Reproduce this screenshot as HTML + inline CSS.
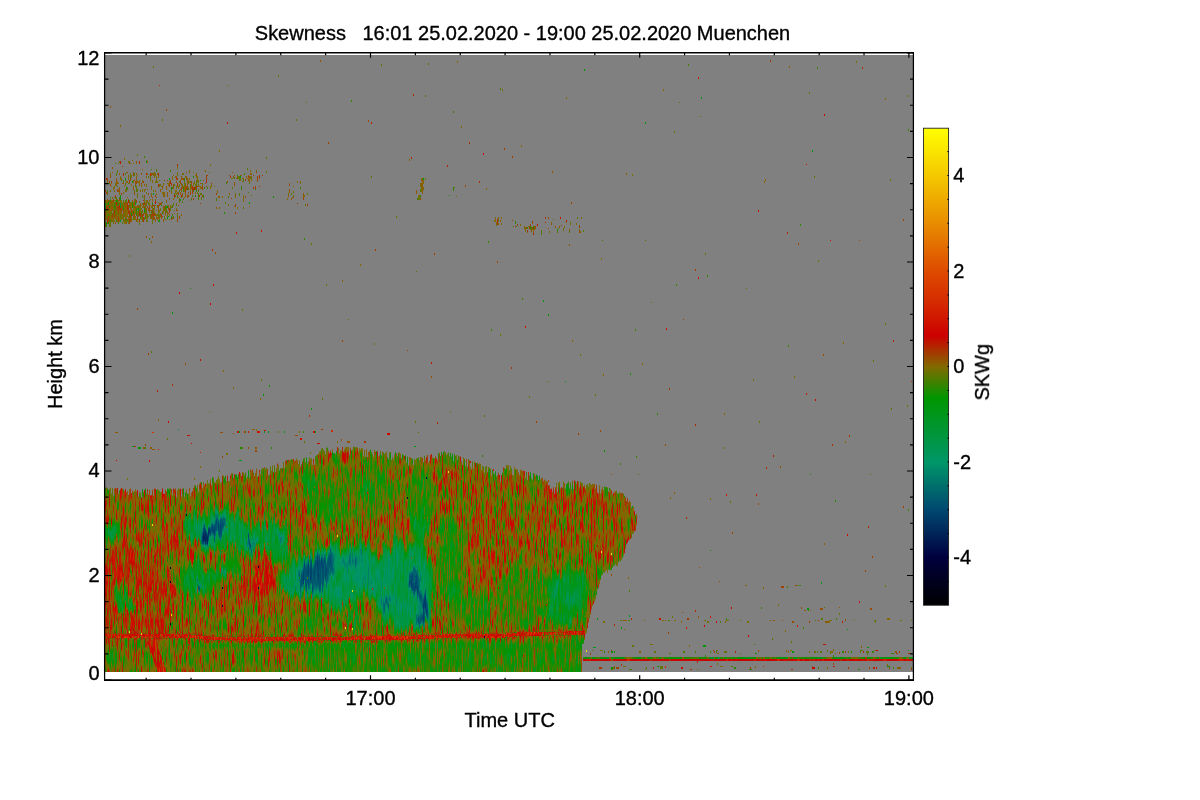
<!DOCTYPE html>
<html lang="en"><head><meta charset="utf-8"><title>Skewness 16:01 25.02.2020 - 19:00 25.02.2020 Muenchen</title>
<style>html,body{margin:0;padding:0;background:#fff;}body{width:1200px;height:800px;overflow:hidden;}svg{display:block;}text{font-family:"Liberation Sans",Arial,Helvetica,sans-serif;font-size:20px;fill:#000;stroke:#000;stroke-width:0.35px;}</style></head><body>
<svg width="1200" height="800" viewBox="0 0 1200 800">
<defs>
<linearGradient id="cb" x1="0" y1="1" x2="0" y2="0">
<stop offset="0.0000" stop-color="#000000"/>
<stop offset="0.1000" stop-color="#00003e"/>
<stop offset="0.2000" stop-color="#004870"/>
<stop offset="0.3000" stop-color="#009668"/>
<stop offset="0.3700" stop-color="#009632"/>
<stop offset="0.4350" stop-color="#009600"/>
<stop offset="0.5000" stop-color="#826a00"/>
<stop offset="0.5650" stop-color="#cc0000"/>
<stop offset="0.6300" stop-color="#d42800"/>
<stop offset="0.7000" stop-color="#de4b00"/>
<stop offset="0.8000" stop-color="#e88c00"/>
<stop offset="0.9000" stop-color="#f4c800"/>
<stop offset="1.0000" stop-color="#ffff00"/>
</linearGradient>
<filter id="bw" filterUnits="userSpaceOnUse" x="60" y="400" width="640" height="310" color-interpolation-filters="sRGB">
<feGaussianBlur in="SourceGraphic" stdDeviation="2.2 2.6" result="b"/>
<feTurbulence type="fractalNoise" baseFrequency="0.045 0.022" numOctaves="3" seed="4" result="w"/>
<feDisplacementMap in="b" in2="w" scale="26" xChannelSelector="R" yChannelSelector="G" result="d1"/>
<feTurbulence type="fractalNoise" baseFrequency="0.33 0.012" numOctaves="2" seed="9" result="w2"/>
<feColorMatrix in="w2" type="matrix" values="0 0 0 0 0.5  0 1 0 0 0  0 0 0 0 0.5  0 0 0 0 1" result="w2b"/>
<feDisplacementMap in="d1" in2="w2b" scale="34" xChannelSelector="R" yChannelSelector="G"/>
</filter>
<filter id="b1" filterUnits="userSpaceOnUse" x="60" y="400" width="640" height="310" color-interpolation-filters="sRGB">
<feGaussianBlur in="SourceGraphic" stdDeviation="0.4 0.9"/>
</filter>
<filter id="cf" filterUnits="userSpaceOnUse" x="90" y="420" width="570" height="270" color-interpolation-filters="sRGB">
<feTurbulence type="fractalNoise" baseFrequency="0.85 0.06" numOctaves="2" seed="11" result="t1"/>
<feColorMatrix in="t1" type="matrix" values="1 0 0 0 0  1 0 0 0 0  1 0 0 0 0  0 0 0 0 1" result="n1"/>
<feTurbulence type="fractalNoise" baseFrequency="0.11 0.045" numOctaves="2" seed="5" result="t2"/>
<feColorMatrix in="t2" type="matrix" values="0 1 0 0 0  0 1 0 0 0  0 1 0 0 0  0 0 0 0 1" result="n2"/>
<feComponentTransfer in="n1" result="n1c"><feFuncR type="table" tableValues="0.3300 0.3300 0.3300 0.3300 0.3300 0.3300 0.3300 0.3300 0.3300 0.3300 0.3300 0.3300 0.3300 0.3450 0.3807 0.4125 0.4401 0.4633 0.4816 0.4943 0.5000 0.5057 0.5184 0.5367 0.5599 0.5875 0.6193 0.6550 0.6700 0.6700 0.6700 0.6700 0.6700 0.6700 0.6700 0.6700 0.6700 0.6700 0.6700 0.6700 0.6700"/><feFuncG type="table" tableValues="0.3300 0.3300 0.3300 0.3300 0.3300 0.3300 0.3300 0.3300 0.3300 0.3300 0.3300 0.3300 0.3300 0.3450 0.3807 0.4125 0.4401 0.4633 0.4816 0.4943 0.5000 0.5057 0.5184 0.5367 0.5599 0.5875 0.6193 0.6550 0.6700 0.6700 0.6700 0.6700 0.6700 0.6700 0.6700 0.6700 0.6700 0.6700 0.6700 0.6700 0.6700"/><feFuncB type="table" tableValues="0.3300 0.3300 0.3300 0.3300 0.3300 0.3300 0.3300 0.3300 0.3300 0.3300 0.3300 0.3300 0.3300 0.3450 0.3807 0.4125 0.4401 0.4633 0.4816 0.4943 0.5000 0.5057 0.5184 0.5367 0.5599 0.5875 0.6193 0.6550 0.6700 0.6700 0.6700 0.6700 0.6700 0.6700 0.6700 0.6700 0.6700 0.6700 0.6700 0.6700 0.6700"/></feComponentTransfer>
<feComposite in="n1c" in2="n2" operator="arithmetic" k1="0" k2="0.8" k3="0.2" k4="0" result="n"/>
<feComposite in="SourceGraphic" in2="n" operator="arithmetic" k1="1" k2="0.5" k3="-0.04" k4="0.02" result="v"/>
<feComponentTransfer in="v">
<feFuncR type="table" tableValues="0.000 0.000 0.000 0.000 0.000 0.000 0.000 0.000 0.000 0.000 0.000 0.000 0.000 0.000 0.000 0.000 0.000 0.000 0.000 0.000 0.000 0.000 0.000 0.000 0.000 0.000 0.000 0.000 0.000 0.000 0.000 0.000 0.000 0.000 0.000 0.020 0.118 0.216 0.314 0.412 0.510 0.566 0.621 0.677 0.733 0.789 0.805 0.811 0.817 0.823 0.829 0.836 0.843 0.850 0.857 0.864 0.871 0.875 0.880 0.885 0.890 0.895 0.900 0.905 0.910 0.916 0.922 0.927 0.933 0.939 0.945 0.951 0.957 0.962 0.968 0.973 0.978 0.984 0.989 0.995 1.000"/>
<feFuncG type="table" tableValues="0.000 0.000 0.000 0.000 0.000 0.000 0.000 0.000 0.000 0.035 0.071 0.106 0.141 0.176 0.212 0.247 0.282 0.321 0.359 0.397 0.435 0.474 0.512 0.550 0.588 0.588 0.588 0.588 0.588 0.588 0.588 0.588 0.588 0.588 0.588 0.582 0.548 0.515 0.482 0.449 0.416 0.336 0.256 0.176 0.096 0.016 0.024 0.054 0.084 0.115 0.145 0.172 0.196 0.221 0.245 0.270 0.294 0.326 0.358 0.390 0.422 0.453 0.485 0.517 0.549 0.578 0.608 0.637 0.667 0.696 0.725 0.755 0.784 0.811 0.838 0.865 0.892 0.919 0.946 0.973 1.000"/>
<feFuncB type="table" tableValues="0.000 0.030 0.061 0.091 0.122 0.152 0.182 0.213 0.243 0.268 0.292 0.317 0.341 0.366 0.390 0.415 0.439 0.435 0.431 0.427 0.424 0.420 0.416 0.412 0.408 0.370 0.332 0.294 0.257 0.219 0.181 0.143 0.106 0.068 0.030 0.000 0.000 0.000 0.000 0.000 0.000 0.000 0.000 0.000 0.000 0.000 0.000 0.000 0.000 0.000 0.000 0.000 0.000 0.000 0.000 0.000 0.000 0.000 0.000 0.000 0.000 0.000 0.000 0.000 0.000 0.000 0.000 0.000 0.000 0.000 0.000 0.000 0.000 0.000 0.000 0.000 0.000 0.000 0.000 0.000 0.000"/>
</feComponentTransfer>
</filter>
<filter id="cf2" filterUnits="userSpaceOnUse" x="90" y="620" width="570" height="70" color-interpolation-filters="sRGB">
<feGaussianBlur in="SourceGraphic" stdDeviation="0.3 0.7" result="sb"/>
<feTurbulence type="fractalNoise" baseFrequency="0.7 0.25" numOctaves="2" seed="23" result="t1"/>
<feColorMatrix in="t1" type="matrix" values="1 0 0 0 0  1 0 0 0 0  1 0 0 0 0  0 0 0 0 1" result="n1"/>
<feComposite in="sb" in2="n1" operator="arithmetic" k1="0" k2="1" k3="0.36" k4="-0.18" result="v"/>
<feComponentTransfer in="v" result="col">
<feFuncR type="table" tableValues="0.000 0.000 0.000 0.000 0.000 0.000 0.000 0.000 0.000 0.000 0.000 0.000 0.000 0.000 0.000 0.000 0.000 0.000 0.000 0.000 0.000 0.000 0.000 0.000 0.000 0.000 0.000 0.000 0.000 0.000 0.000 0.000 0.000 0.000 0.000 0.020 0.118 0.216 0.314 0.412 0.510 0.566 0.621 0.677 0.733 0.789 0.805 0.811 0.817 0.823 0.829 0.836 0.843 0.850 0.857 0.864 0.871 0.875 0.880 0.885 0.890 0.895 0.900 0.905 0.910 0.916 0.922 0.927 0.933 0.939 0.945 0.951 0.957 0.962 0.968 0.973 0.978 0.984 0.989 0.995 1.000"/>
<feFuncG type="table" tableValues="0.000 0.000 0.000 0.000 0.000 0.000 0.000 0.000 0.000 0.035 0.071 0.106 0.141 0.176 0.212 0.247 0.282 0.321 0.359 0.397 0.435 0.474 0.512 0.550 0.588 0.588 0.588 0.588 0.588 0.588 0.588 0.588 0.588 0.588 0.588 0.582 0.548 0.515 0.482 0.449 0.416 0.336 0.256 0.176 0.096 0.016 0.024 0.054 0.084 0.115 0.145 0.172 0.196 0.221 0.245 0.270 0.294 0.326 0.358 0.390 0.422 0.453 0.485 0.517 0.549 0.578 0.608 0.637 0.667 0.696 0.725 0.755 0.784 0.811 0.838 0.865 0.892 0.919 0.946 0.973 1.000"/>
<feFuncB type="table" tableValues="0.000 0.030 0.061 0.091 0.122 0.152 0.182 0.213 0.243 0.268 0.292 0.317 0.341 0.366 0.390 0.415 0.439 0.435 0.431 0.427 0.424 0.420 0.416 0.412 0.408 0.370 0.332 0.294 0.257 0.219 0.181 0.143 0.106 0.068 0.030 0.000 0.000 0.000 0.000 0.000 0.000 0.000 0.000 0.000 0.000 0.000 0.000 0.000 0.000 0.000 0.000 0.000 0.000 0.000 0.000 0.000 0.000 0.000 0.000 0.000 0.000 0.000 0.000 0.000 0.000 0.000 0.000 0.000 0.000 0.000 0.000 0.000 0.000 0.000 0.000 0.000 0.000 0.000 0.000 0.000 0.000"/>
</feComponentTransfer>
<feComposite in="col" in2="SourceAlpha" operator="in"/>
</filter>
<clipPath id="cc"><path d="M105.0 672.0 L105.0 487.7 H106.0 L106.0 487.6 H107.0 L107.0 488.6 H108.0 L108.0 489.7 H109.0 L109.0 489.1 H110.0 L110.0 487.8 H111.0 L111.0 493.7 H112.0 L112.0 488.1 H113.0 L113.0 495.8 H114.0 L114.0 489.0 H115.0 L115.0 487.9 H116.0 L116.0 488.5 H117.0 L117.0 488.0 H118.0 L118.0 493.8 H119.0 L119.0 490.8 H120.0 L120.0 489.1 H121.0 L121.0 488.1 H122.0 L122.0 488.4 H123.0 L123.0 489.6 H124.0 L124.0 491.0 H125.0 L125.0 488.9 H126.0 L126.0 492.4 H127.0 L127.0 491.0 H128.0 L128.0 495.1 H129.0 L129.0 489.0 H130.0 L130.0 488.5 H131.0 L131.0 493.3 H132.0 L132.0 490.4 H133.0 L133.0 492.2 H134.0 L134.0 491.1 H135.0 L135.0 489.2 H136.0 L136.0 491.4 H137.0 L137.0 490.1 H138.0 L138.0 496.4 H139.0 L139.0 492.2 H140.0 L140.0 492.6 H141.0 L141.0 497.4 H142.0 L142.0 489.1 H143.0 L143.0 492.2 H144.0 L144.0 490.1 H145.0 L145.0 488.6 H146.0 L146.0 493.5 H147.0 L147.0 488.9 H148.0 L148.0 495.1 H149.0 L149.0 490.0 H150.0 L150.0 495.4 H151.0 L151.0 495.0 H152.0 L152.0 489.8 H153.0 L153.0 495.4 H154.0 L154.0 488.6 H155.0 L155.0 488.9 H156.0 L156.0 490.3 H157.0 L157.0 489.0 H158.0 L158.0 489.8 H159.0 L159.0 491.1 H160.0 L160.0 492.5 H161.0 L161.0 491.6 H162.0 L162.0 488.5 H163.0 L163.0 493.7 H164.0 L164.0 494.0 H165.0 L165.0 489.7 H166.0 L166.0 491.8 H167.0 L167.0 488.5 H168.0 L168.0 488.7 H169.0 L169.0 488.5 H170.0 L170.0 488.6 H171.0 L171.0 489.5 H172.0 L172.0 495.2 H173.0 L173.0 488.6 H174.0 L174.0 489.4 H175.0 L175.0 488.6 H176.0 L176.0 497.4 H177.0 L177.0 490.3 H178.0 L178.0 488.6 H179.0 L179.0 489.0 H180.0 L180.0 488.7 H181.0 L181.0 496.6 H182.0 L182.0 488.6 H183.0 L183.0 488.5 H184.0 L184.0 497.1 H185.0 L185.0 492.6 H186.0 L186.0 489.5 H187.0 L187.0 493.6 H188.0 L188.0 493.7 H189.0 L189.0 488.3 H190.0 L190.0 496.2 H191.0 L191.0 492.5 H192.0 L192.0 491.0 H193.0 L193.0 488.0 H194.0 L194.0 485.3 H195.0 L195.0 485.4 H196.0 L196.0 488.3 H197.0 L197.0 485.3 H198.0 L198.0 492.0 H199.0 L199.0 483.7 H200.0 L200.0 482.5 H201.0 L201.0 481.9 H202.0 L202.0 488.3 H203.0 L203.0 482.4 H204.0 L204.0 485.6 H205.0 L205.0 483.2 H206.0 L206.0 484.3 H207.0 L207.0 480.3 H208.0 L208.0 483.6 H209.0 L209.0 483.6 H210.0 L210.0 479.0 H211.0 L211.0 485.6 H212.0 L212.0 477.6 H213.0 L213.0 477.3 H214.0 L214.0 482.6 H215.0 L215.0 482.6 H216.0 L216.0 480.1 H217.0 L217.0 478.7 H218.0 L218.0 476.1 H219.0 L219.0 479.3 H220.0 L220.0 483.3 H221.0 L221.0 482.0 H222.0 L222.0 475.5 H223.0 L223.0 475.5 H224.0 L224.0 477.5 H225.0 L225.0 475.8 H226.0 L226.0 481.6 H227.0 L227.0 475.7 H228.0 L228.0 481.0 H229.0 L229.0 481.1 H230.0 L230.0 475.6 H231.0 L231.0 473.2 H232.0 L232.0 473.2 H233.0 L233.0 478.2 H234.0 L234.0 474.2 H235.0 L235.0 474.8 H236.0 L236.0 474.2 H237.0 L237.0 477.1 H238.0 L238.0 474.1 H239.0 L239.0 471.9 H240.0 L240.0 473.2 H241.0 L241.0 475.9 H242.0 L242.0 472.2 H243.0 L243.0 472.5 H244.0 L244.0 474.4 H245.0 L245.0 472.4 H246.0 L246.0 477.9 H247.0 L247.0 476.6 H248.0 L248.0 470.2 H249.0 L249.0 477.5 H250.0 L250.0 469.5 H251.0 L251.0 470.8 H252.0 L252.0 469.5 H253.0 L253.0 472.7 H254.0 L254.0 475.9 H255.0 L255.0 473.0 H256.0 L256.0 468.6 H257.0 L257.0 476.7 H258.0 L258.0 476.3 H259.0 L259.0 469.9 H260.0 L260.0 473.9 H261.0 L261.0 469.1 H262.0 L262.0 468.4 H263.0 L263.0 468.1 H264.0 L264.0 467.3 H265.0 L265.0 468.6 H266.0 L266.0 467.8 H267.0 L267.0 468.9 H268.0 L268.0 475.4 H269.0 L269.0 474.9 H270.0 L270.0 466.6 H271.0 L271.0 471.0 H272.0 L272.0 465.5 H273.0 L273.0 472.4 H274.0 L274.0 465.1 H275.0 L275.0 471.8 H276.0 L276.0 468.0 H277.0 L277.0 463.6 H278.0 L278.0 464.6 H279.0 L279.0 470.6 H280.0 L280.0 468.0 H281.0 L281.0 468.5 H282.0 L282.0 468.2 H283.0 L283.0 462.2 H284.0 L284.0 468.6 H285.0 L285.0 460.7 H286.0 L286.0 460.6 H287.0 L287.0 460.0 H288.0 L288.0 459.8 H289.0 L289.0 460.0 H290.0 L290.0 459.9 H291.0 L291.0 459.4 H292.0 L292.0 459.0 H293.0 L293.0 458.9 H294.0 L294.0 461.2 H295.0 L295.0 460.4 H296.0 L296.0 458.6 H297.0 L297.0 459.9 H298.0 L298.0 464.4 H299.0 L299.0 460.2 H300.0 L300.0 466.8 H301.0 L301.0 464.0 H302.0 L302.0 461.2 H303.0 L303.0 458.6 H304.0 L304.0 457.8 H305.0 L305.0 462.2 H306.0 L306.0 457.6 H307.0 L307.0 463.5 H308.0 L308.0 460.9 H309.0 L309.0 457.5 H310.0 L310.0 458.6 H311.0 L311.0 458.4 H312.0 L312.0 465.0 H313.0 L313.0 459.0 H314.0 L314.0 464.8 H315.0 L315.0 456.3 H316.0 L316.0 455.3 H317.0 L317.0 455.1 H318.0 L318.0 454.0 H319.0 L319.0 451.4 H320.0 L320.0 450.9 H321.0 L321.0 448.6 H322.0 L322.0 447.9 H323.0 L323.0 449.7 H324.0 L324.0 451.0 H325.0 L325.0 454.2 H326.0 L326.0 448.1 H327.0 L327.0 447.5 H328.0 L328.0 450.7 H329.0 L329.0 453.3 H330.0 L330.0 450.5 H331.0 L331.0 452.9 H332.0 L332.0 449.3 H333.0 L333.0 453.2 H334.0 L334.0 453.0 H335.0 L335.0 454.1 H336.0 L336.0 451.1 H337.0 L337.0 447.0 H338.0 L338.0 447.9 H339.0 L339.0 453.0 H340.0 L340.0 450.2 H341.0 L341.0 450.7 H342.0 L342.0 446.9 H343.0 L343.0 451.6 H344.0 L344.0 449.1 H345.0 L345.0 446.8 H346.0 L346.0 447.2 H347.0 L347.0 447.2 H348.0 L348.0 446.9 H349.0 L349.0 455.2 H350.0 L350.0 447.7 H351.0 L351.0 450.5 H352.0 L352.0 449.6 H353.0 L353.0 446.5 H354.0 L354.0 447.1 H355.0 L355.0 447.5 H356.0 L356.0 447.0 H357.0 L357.0 447.7 H358.0 L358.0 451.4 H359.0 L359.0 448.2 H360.0 L360.0 449.4 H361.0 L361.0 448.0 H362.0 L362.0 448.3 H363.0 L363.0 456.1 H364.0 L364.0 450.1 H365.0 L365.0 457.0 H366.0 L366.0 449.3 H367.0 L367.0 456.9 H368.0 L368.0 451.9 H369.0 L369.0 451.5 H370.0 L370.0 449.6 H371.0 L371.0 451.7 H372.0 L372.0 453.9 H373.0 L373.0 457.0 H374.0 L374.0 450.1 H375.0 L375.0 452.1 H376.0 L376.0 451.0 H377.0 L377.0 451.4 H378.0 L378.0 456.8 H379.0 L379.0 455.6 H380.0 L380.0 451.1 H381.0 L381.0 455.4 H382.0 L382.0 451.7 H383.0 L383.0 452.4 H384.0 L384.0 454.1 H385.0 L385.0 452.8 H386.0 L386.0 451.5 H387.0 L387.0 457.6 H388.0 L388.0 459.4 H389.0 L389.0 452.2 H390.0 L390.0 452.0 H391.0 L391.0 460.0 H392.0 L392.0 457.6 H393.0 L393.0 459.4 H394.0 L394.0 454.5 H395.0 L395.0 452.2 H396.0 L396.0 453.8 H397.0 L397.0 455.8 H398.0 L398.0 452.4 H399.0 L399.0 452.6 H400.0 L400.0 453.8 H401.0 L401.0 458.1 H402.0 L402.0 454.3 H403.0 L403.0 455.0 H404.0 L404.0 456.0 H405.0 L405.0 455.4 H406.0 L406.0 463.0 H407.0 L407.0 456.5 H408.0 L408.0 465.6 H409.0 L409.0 457.2 H410.0 L410.0 457.6 H411.0 L411.0 458.1 H412.0 L412.0 459.0 H413.0 L413.0 465.2 H414.0 L414.0 459.3 H415.0 L415.0 460.0 H416.0 L416.0 458.4 H417.0 L417.0 457.9 H418.0 L418.0 457.2 H419.0 L419.0 460.2 H420.0 L420.0 457.0 H421.0 L421.0 456.9 H422.0 L422.0 457.7 H423.0 L423.0 462.3 H424.0 L424.0 455.8 H425.0 L425.0 459.8 H426.0 L426.0 457.1 H427.0 L427.0 455.1 H428.0 L428.0 462.5 H429.0 L429.0 461.0 H430.0 L430.0 454.8 H431.0 L431.0 454.3 H432.0 L432.0 457.8 H433.0 L433.0 458.1 H434.0 L434.0 458.5 H435.0 L435.0 455.7 H436.0 L436.0 458.3 H437.0 L437.0 460.3 H438.0 L438.0 453.2 H439.0 L439.0 452.8 H440.0 L440.0 456.2 H441.0 L441.0 451.9 H442.0 L442.0 454.4 H443.0 L443.0 451.8 H444.0 L444.0 451.2 H445.0 L445.0 452.6 H446.0 L446.0 454.8 H447.0 L447.0 453.4 H448.0 L448.0 452.4 H449.0 L449.0 456.5 H450.0 L450.0 452.7 H451.0 L451.0 456.8 H452.0 L452.0 453.8 H453.0 L453.0 461.3 H454.0 L454.0 454.1 H455.0 L455.0 455.8 H456.0 L456.0 455.0 H457.0 L457.0 459.7 H458.0 L458.0 455.7 H459.0 L459.0 456.5 H460.0 L460.0 456.5 H461.0 L461.0 461.4 H462.0 L462.0 464.9 H463.0 L463.0 457.4 H464.0 L464.0 458.8 H465.0 L465.0 465.9 H466.0 L466.0 459.4 H467.0 L467.0 467.2 H468.0 L468.0 459.1 H469.0 L469.0 460.6 H470.0 L470.0 466.7 H471.0 L471.0 469.2 H472.0 L472.0 461.4 H473.0 L473.0 468.8 H474.0 L474.0 461.4 H475.0 L475.0 462.9 H476.0 L476.0 463.0 H477.0 L477.0 462.6 H478.0 L478.0 463.9 H479.0 L479.0 463.5 H480.0 L480.0 464.0 H481.0 L481.0 470.0 H482.0 L482.0 466.0 H483.0 L483.0 466.7 H484.0 L484.0 472.8 H485.0 L485.0 466.7 H486.0 L486.0 466.1 H487.0 L487.0 472.2 H488.0 L488.0 467.1 H489.0 L489.0 467.7 H490.0 L490.0 468.7 H491.0 L491.0 475.9 H492.0 L492.0 469.9 H493.0 L493.0 473.0 H494.0 L494.0 474.8 H495.0 L495.0 471.6 H496.0 L496.0 476.5 H497.0 L497.0 475.5 H498.0 L498.0 472.8 H499.0 L499.0 475.1 H500.0 L500.0 482.0 H501.0 L501.0 474.9 H502.0 L502.0 472.7 H503.0 L503.0 467.4 H504.0 L504.0 468.1 H505.0 L505.0 469.0 H506.0 L506.0 465.0 H507.0 L507.0 465.6 H508.0 L508.0 465.0 H509.0 L509.0 470.2 H510.0 L510.0 465.7 H511.0 L511.0 468.5 H512.0 L512.0 475.1 H513.0 L513.0 475.6 H514.0 L514.0 467.2 H515.0 L515.0 469.5 H516.0 L516.0 469.5 H517.0 L517.0 469.6 H518.0 L518.0 472.4 H519.0 L519.0 475.3 H520.0 L520.0 469.5 H521.0 L521.0 470.4 H522.0 L522.0 471.2 H523.0 L523.0 470.8 H524.0 L524.0 471.1 H525.0 L525.0 477.8 H526.0 L526.0 472.0 H527.0 L527.0 480.3 H528.0 L528.0 472.0 H529.0 L529.0 475.4 H530.0 L530.0 472.2 H531.0 L531.0 478.1 H532.0 L532.0 480.0 H533.0 L533.0 473.4 H534.0 L534.0 473.3 H535.0 L535.0 476.0 H536.0 L536.0 474.5 H537.0 L537.0 475.8 H538.0 L538.0 480.1 H539.0 L539.0 475.7 H540.0 L540.0 479.6 H541.0 L541.0 478.1 H542.0 L542.0 478.1 H543.0 L543.0 481.5 H544.0 L544.0 479.6 H545.0 L545.0 480.8 H546.0 L546.0 481.0 H547.0 L547.0 481.8 H548.0 L548.0 485.6 H549.0 L549.0 485.1 H550.0 L550.0 489.2 H551.0 L551.0 488.5 H552.0 L552.0 491.7 H553.0 L553.0 487.3 H554.0 L554.0 494.0 H555.0 L555.0 487.6 H556.0 L556.0 485.4 H557.0 L557.0 492.2 H558.0 L558.0 482.6 H559.0 L559.0 481.8 H560.0 L560.0 488.6 H561.0 L561.0 487.2 H562.0 L562.0 488.2 H563.0 L563.0 481.4 H564.0 L564.0 483.6 H565.0 L565.0 488.4 H566.0 L566.0 484.2 H567.0 L567.0 483.0 H568.0 L568.0 481.5 H569.0 L569.0 488.5 H570.0 L570.0 482.7 H571.0 L571.0 489.1 H572.0 L572.0 480.8 H573.0 L573.0 489.1 H574.0 L574.0 480.6 H575.0 L575.0 481.6 H576.0 L576.0 483.8 H577.0 L577.0 481.0 H578.0 L578.0 481.4 H579.0 L579.0 487.5 H580.0 L580.0 481.7 H581.0 L581.0 482.8 H582.0 L582.0 482.9 H583.0 L583.0 486.4 H584.0 L584.0 484.7 H585.0 L585.0 488.5 H586.0 L586.0 485.0 H587.0 L587.0 484.1 H588.0 L588.0 486.5 H589.0 L589.0 483.1 H590.0 L590.0 483.7 H591.0 L591.0 485.1 H592.0 L592.0 483.8 H593.0 L593.0 483.9 H594.0 L594.0 484.1 H595.0 L595.0 488.8 H596.0 L596.0 484.5 H597.0 L597.0 492.7 H598.0 L598.0 493.7 H599.0 L599.0 485.2 H600.0 L600.0 493.4 H601.0 L601.0 489.2 H602.0 L602.0 486.7 H603.0 L603.0 490.6 H604.0 L604.0 486.6 H605.0 L605.0 486.9 H606.0 L606.0 487.3 H607.0 L607.0 487.2 H608.0 L608.0 491.7 H609.0 L609.0 488.0 H610.0 L610.0 488.9 H611.0 L611.0 490.4 H612.0 L612.0 494.5 H613.0 L613.0 492.9 H614.0 L614.0 491.6 H615.0 L615.0 491.3 H616.0 L616.0 490.8 H617.0 L617.0 493.2 H618.0 L618.0 493.8 H619.0 L619.0 492.0 H620.0 L620.0 493.3 H621.0 L621.0 492.9 H622.0 L622.0 493.3 H623.0 L623.0 493.7 H624.0 L624.0 495.8 H625.0 L625.0 497.3 H626.0 L626.0 501.3 H627.0 L627.0 497.9 H628.0 L628.0 502.2 H629.0 L629.0 500.4 H630.0 L630.0 502.1 H631.0 L631.0 507.5 H632.0 L632.0 508.4 H633.0 L633.0 506.8 H634.0 L634.0 511.2 H635.0 L635.0 514.8 H636.0 L636.0 513.9 H637.0 L637.0 517.5 H638.0 L638.0 517.9 H637.0 L637.0 525.6 H636.0 L636.0 530.6 H635.0 L635.0 531.3 H634.0 L634.0 533.5 H633.0 L633.0 533.9 H632.0 L632.0 537.9 H631.0 L631.0 538.8 H630.0 L630.0 540.1 H629.0 L629.0 540.4 H628.0 L628.0 542.6 H627.0 L627.0 544.6 H626.0 L626.0 549.1 H625.0 L625.0 553.2 H624.0 L624.0 555.8 H623.0 L623.0 558.0 H622.0 L622.0 559.7 H621.0 L621.0 561.6 H620.0 L620.0 560.9 H619.0 L619.0 562.3 H618.0 L618.0 565.7 H617.0 L617.0 565.8 H616.0 L616.0 564.0 H615.0 L615.0 565.5 H614.0 L614.0 565.9 H613.0 L613.0 568.1 H612.0 L612.0 569.9 H611.0 L611.0 570.6 H610.0 L610.0 570.0 H609.0 L609.0 569.3 H608.0 L608.0 573.0 H607.0 L607.0 569.8 H606.0 L606.0 571.2 H605.0 L605.0 572.6 H604.0 L604.0 572.2 H603.0 L603.0 574.6 H602.0 L602.0 575.7 H601.0 L601.0 579.9 H600.0 L600.0 584.3 H599.0 L599.0 587.5 H598.0 L598.0 589.3 H597.0 L597.0 595.0 H596.0 L596.0 599.2 H595.0 L595.0 601.8 H594.0 L594.0 604.1 H593.0 L593.0 606.0 H592.0 L592.0 609.3 H591.0 L591.0 614.8 H590.0 L590.0 618.5 H589.0 L589.0 622.8 H588.0 L588.0 628.3 H587.0 L587.0 632.8 H586.0 L586.0 634.0 H585.0 L585.0 639.9 H584.0 L584.0 643.7 H583.0 L583.0 643.9 H582.0 L582.0 672.0 H581.0 L581.0 672.0 H580.0 L580.0 672.0 H579.0 L579.0 672.0 H578.0 L578.0 672.0 H577.0 L577.0 672.0 H576.0 L576.0 672.0 H575.0 L575.0 672.0 H574.0 L574.0 672.0 H573.0 L573.0 672.0 H572.0 L572.0 672.0 H571.0 L571.0 672.0 H570.0 L570.0 672.0 H569.0 L569.0 672.0 H568.0 L568.0 672.0 H567.0 L567.0 672.0 H566.0 L566.0 672.0 H565.0 L565.0 672.0 H564.0 L564.0 672.0 H563.0 L563.0 672.0 H562.0 L562.0 672.0 H561.0 L561.0 672.0 H560.0 L560.0 672.0 H559.0 L559.0 672.0 H558.0 L558.0 672.0 H557.0 L557.0 672.0 H556.0 L556.0 672.0 H555.0 L555.0 672.0 H554.0 L554.0 672.0 H553.0 L553.0 672.0 H552.0 L552.0 672.0 H551.0 L551.0 672.0 H550.0 L550.0 672.0 H549.0 L549.0 672.0 H548.0 L548.0 672.0 H547.0 L547.0 672.0 H546.0 L546.0 672.0 H545.0 L545.0 672.0 H544.0 L544.0 672.0 H543.0 L543.0 672.0 H542.0 L542.0 672.0 H541.0 L541.0 672.0 H540.0 L540.0 672.0 H539.0 L539.0 672.0 H538.0 L538.0 672.0 H537.0 L537.0 672.0 H536.0 L536.0 672.0 H535.0 L535.0 672.0 H534.0 L534.0 672.0 H533.0 L533.0 672.0 H532.0 L532.0 672.0 H531.0 L531.0 672.0 H530.0 L530.0 672.0 H529.0 L529.0 672.0 H528.0 L528.0 672.0 H527.0 L527.0 672.0 H526.0 L526.0 672.0 H525.0 L525.0 672.0 H524.0 L524.0 672.0 H523.0 L523.0 672.0 H522.0 L522.0 672.0 H521.0 L521.0 672.0 H520.0 L520.0 672.0 H519.0 L519.0 672.0 H518.0 L518.0 672.0 H517.0 L517.0 672.0 H516.0 L516.0 672.0 H515.0 L515.0 672.0 H514.0 L514.0 672.0 H513.0 L513.0 672.0 H512.0 L512.0 672.0 H511.0 L511.0 672.0 H510.0 L510.0 672.0 H509.0 L509.0 672.0 H508.0 L508.0 672.0 H507.0 L507.0 672.0 H506.0 L506.0 672.0 H505.0 L505.0 672.0 H504.0 L504.0 672.0 H503.0 L503.0 672.0 H502.0 L502.0 672.0 H501.0 L501.0 672.0 H500.0 L500.0 672.0 H499.0 L499.0 672.0 H498.0 L498.0 672.0 H497.0 L497.0 672.0 H496.0 L496.0 672.0 H495.0 L495.0 672.0 H494.0 L494.0 672.0 H493.0 L493.0 672.0 H492.0 L492.0 672.0 H491.0 L491.0 672.0 H490.0 L490.0 672.0 H489.0 L489.0 672.0 H488.0 L488.0 672.0 H487.0 L487.0 672.0 H486.0 L486.0 672.0 H485.0 L485.0 672.0 H484.0 L484.0 672.0 H483.0 L483.0 672.0 H482.0 L482.0 672.0 H481.0 L481.0 672.0 H480.0 L480.0 672.0 H479.0 L479.0 672.0 H478.0 L478.0 672.0 H477.0 L477.0 672.0 H476.0 L476.0 672.0 H475.0 L475.0 672.0 H474.0 L474.0 672.0 H473.0 L473.0 672.0 H472.0 L472.0 672.0 H471.0 L471.0 672.0 H470.0 L470.0 672.0 H469.0 L469.0 672.0 H468.0 L468.0 672.0 H467.0 L467.0 672.0 H466.0 L466.0 672.0 H465.0 L465.0 672.0 H464.0 L464.0 672.0 H463.0 L463.0 672.0 H462.0 L462.0 672.0 H461.0 L461.0 672.0 H460.0 L460.0 672.0 H459.0 L459.0 672.0 H458.0 L458.0 672.0 H457.0 L457.0 672.0 H456.0 L456.0 672.0 H455.0 L455.0 672.0 H454.0 L454.0 672.0 H453.0 L453.0 672.0 H452.0 L452.0 672.0 H451.0 L451.0 672.0 H450.0 L450.0 672.0 H449.0 L449.0 672.0 H448.0 L448.0 672.0 H447.0 L447.0 672.0 H446.0 L446.0 672.0 H445.0 L445.0 672.0 H444.0 L444.0 672.0 H443.0 L443.0 672.0 H442.0 L442.0 672.0 H441.0 L441.0 672.0 H440.0 L440.0 672.0 H439.0 L439.0 672.0 H438.0 L438.0 672.0 H437.0 L437.0 672.0 H436.0 L436.0 672.0 H435.0 L435.0 672.0 H434.0 L434.0 672.0 H433.0 L433.0 672.0 H432.0 L432.0 672.0 H431.0 L431.0 672.0 H430.0 L430.0 672.0 H429.0 L429.0 672.0 H428.0 L428.0 672.0 H427.0 L427.0 672.0 H426.0 L426.0 672.0 H425.0 L425.0 672.0 H424.0 L424.0 672.0 H423.0 L423.0 672.0 H422.0 L422.0 672.0 H421.0 L421.0 672.0 H420.0 L420.0 672.0 H419.0 L419.0 672.0 H418.0 L418.0 672.0 H417.0 L417.0 672.0 H416.0 L416.0 672.0 H415.0 L415.0 672.0 H414.0 L414.0 672.0 H413.0 L413.0 672.0 H412.0 L412.0 672.0 H411.0 L411.0 672.0 H410.0 L410.0 672.0 H409.0 L409.0 672.0 H408.0 L408.0 672.0 H407.0 L407.0 672.0 H406.0 L406.0 672.0 H405.0 L405.0 672.0 H404.0 L404.0 672.0 H403.0 L403.0 672.0 H402.0 L402.0 672.0 H401.0 L401.0 672.0 H400.0 L400.0 672.0 H399.0 L399.0 672.0 H398.0 L398.0 672.0 H397.0 L397.0 672.0 H396.0 L396.0 672.0 H395.0 L395.0 672.0 H394.0 L394.0 672.0 H393.0 L393.0 672.0 H392.0 L392.0 672.0 H391.0 L391.0 672.0 H390.0 L390.0 672.0 H389.0 L389.0 672.0 H388.0 L388.0 672.0 H387.0 L387.0 672.0 H386.0 L386.0 672.0 H385.0 L385.0 672.0 H384.0 L384.0 672.0 H383.0 L383.0 672.0 H382.0 L382.0 672.0 H381.0 L381.0 672.0 H380.0 L380.0 672.0 H379.0 L379.0 672.0 H378.0 L378.0 672.0 H377.0 L377.0 672.0 H376.0 L376.0 672.0 H375.0 L375.0 672.0 H374.0 L374.0 672.0 H373.0 L373.0 672.0 H372.0 L372.0 672.0 H371.0 L371.0 672.0 H370.0 L370.0 672.0 H369.0 L369.0 672.0 H368.0 L368.0 672.0 H367.0 L367.0 672.0 H366.0 L366.0 672.0 H365.0 L365.0 672.0 H364.0 L364.0 672.0 H363.0 L363.0 672.0 H362.0 L362.0 672.0 H361.0 L361.0 672.0 H360.0 L360.0 672.0 H359.0 L359.0 672.0 H358.0 L358.0 672.0 H357.0 L357.0 672.0 H356.0 L356.0 672.0 H355.0 L355.0 672.0 H354.0 L354.0 672.0 H353.0 L353.0 672.0 H352.0 L352.0 672.0 H351.0 L351.0 672.0 H350.0 L350.0 672.0 H349.0 L349.0 672.0 H348.0 L348.0 672.0 H347.0 L347.0 672.0 H346.0 L346.0 672.0 H345.0 L345.0 672.0 H344.0 L344.0 672.0 H343.0 L343.0 672.0 H342.0 L342.0 672.0 H341.0 L341.0 672.0 H340.0 L340.0 672.0 H339.0 L339.0 672.0 H338.0 L338.0 672.0 H337.0 L337.0 672.0 H336.0 L336.0 672.0 H335.0 L335.0 672.0 H334.0 L334.0 672.0 H333.0 L333.0 672.0 H332.0 L332.0 672.0 H331.0 L331.0 672.0 H330.0 L330.0 672.0 H329.0 L329.0 672.0 H328.0 L328.0 672.0 H327.0 L327.0 672.0 H326.0 L326.0 672.0 H325.0 L325.0 672.0 H324.0 L324.0 672.0 H323.0 L323.0 672.0 H322.0 L322.0 672.0 H321.0 L321.0 672.0 H320.0 L320.0 672.0 H319.0 L319.0 672.0 H318.0 L318.0 672.0 H317.0 L317.0 672.0 H316.0 L316.0 672.0 H315.0 L315.0 672.0 H314.0 L314.0 672.0 H313.0 L313.0 672.0 H312.0 L312.0 672.0 H311.0 L311.0 672.0 H310.0 L310.0 672.0 H309.0 L309.0 672.0 H308.0 L308.0 672.0 H307.0 L307.0 672.0 H306.0 L306.0 672.0 H305.0 L305.0 672.0 H304.0 L304.0 672.0 H303.0 L303.0 672.0 H302.0 L302.0 672.0 H301.0 L301.0 672.0 H300.0 L300.0 672.0 H299.0 L299.0 672.0 H298.0 L298.0 672.0 H297.0 L297.0 672.0 H296.0 L296.0 672.0 H295.0 L295.0 672.0 H294.0 L294.0 672.0 H293.0 L293.0 672.0 H292.0 L292.0 672.0 H291.0 L291.0 672.0 H290.0 L290.0 672.0 H289.0 L289.0 672.0 H288.0 L288.0 672.0 H287.0 L287.0 672.0 H286.0 L286.0 672.0 H285.0 L285.0 672.0 H284.0 L284.0 672.0 H283.0 L283.0 672.0 H282.0 L282.0 672.0 H281.0 L281.0 672.0 H280.0 L280.0 672.0 H279.0 L279.0 672.0 H278.0 L278.0 672.0 H277.0 L277.0 672.0 H276.0 L276.0 672.0 H275.0 L275.0 672.0 H274.0 L274.0 672.0 H273.0 L273.0 672.0 H272.0 L272.0 672.0 H271.0 L271.0 672.0 H270.0 L270.0 672.0 H269.0 L269.0 672.0 H268.0 L268.0 672.0 H267.0 L267.0 672.0 H266.0 L266.0 672.0 H265.0 L265.0 672.0 H264.0 L264.0 672.0 H263.0 L263.0 672.0 H262.0 L262.0 672.0 H261.0 L261.0 672.0 H260.0 L260.0 672.0 H259.0 L259.0 672.0 H258.0 L258.0 672.0 H257.0 L257.0 672.0 H256.0 L256.0 672.0 H255.0 L255.0 672.0 H254.0 L254.0 672.0 H253.0 L253.0 672.0 H252.0 L252.0 672.0 H251.0 L251.0 672.0 H250.0 L250.0 672.0 H249.0 L249.0 672.0 H248.0 L248.0 672.0 H247.0 L247.0 672.0 H246.0 L246.0 672.0 H245.0 L245.0 672.0 H244.0 L244.0 672.0 H243.0 L243.0 672.0 H242.0 L242.0 672.0 H241.0 L241.0 672.0 H240.0 L240.0 672.0 H239.0 L239.0 672.0 H238.0 L238.0 672.0 H237.0 L237.0 672.0 H236.0 L236.0 672.0 H235.0 L235.0 672.0 H234.0 L234.0 672.0 H233.0 L233.0 672.0 H232.0 L232.0 672.0 H231.0 L231.0 672.0 H230.0 L230.0 672.0 H229.0 L229.0 672.0 H228.0 L228.0 672.0 H227.0 L227.0 672.0 H226.0 L226.0 672.0 H225.0 L225.0 672.0 H224.0 L224.0 672.0 H223.0 L223.0 672.0 H222.0 L222.0 672.0 H221.0 L221.0 672.0 H220.0 L220.0 672.0 H219.0 L219.0 672.0 H218.0 L218.0 672.0 H217.0 L217.0 672.0 H216.0 L216.0 672.0 H215.0 L215.0 672.0 H214.0 L214.0 672.0 H213.0 L213.0 672.0 H212.0 L212.0 672.0 H211.0 L211.0 672.0 H210.0 L210.0 672.0 H209.0 L209.0 672.0 H208.0 L208.0 672.0 H207.0 L207.0 672.0 H206.0 L206.0 672.0 H205.0 L205.0 672.0 H204.0 L204.0 672.0 H203.0 L203.0 672.0 H202.0 L202.0 672.0 H201.0 L201.0 672.0 H200.0 L200.0 672.0 H199.0 L199.0 672.0 H198.0 L198.0 672.0 H197.0 L197.0 672.0 H196.0 L196.0 672.0 H195.0 L195.0 672.0 H194.0 L194.0 672.0 H193.0 L193.0 672.0 H192.0 L192.0 672.0 H191.0 L191.0 672.0 H190.0 L190.0 672.0 H189.0 L189.0 672.0 H188.0 L188.0 672.0 H187.0 L187.0 672.0 H186.0 L186.0 672.0 H185.0 L185.0 672.0 H184.0 L184.0 672.0 H183.0 L183.0 672.0 H182.0 L182.0 672.0 H181.0 L181.0 672.0 H180.0 L180.0 672.0 H179.0 L179.0 672.0 H178.0 L178.0 672.0 H177.0 L177.0 672.0 H176.0 L176.0 672.0 H175.0 L175.0 672.0 H174.0 L174.0 672.0 H173.0 L173.0 672.0 H172.0 L172.0 672.0 H171.0 L171.0 672.0 H170.0 L170.0 672.0 H169.0 L169.0 672.0 H168.0 L168.0 672.0 H167.0 L167.0 672.0 H166.0 L166.0 672.0 H165.0 L165.0 672.0 H164.0 L164.0 672.0 H163.0 L163.0 672.0 H162.0 L162.0 672.0 H161.0 L161.0 672.0 H160.0 L160.0 672.0 H159.0 L159.0 672.0 H158.0 L158.0 672.0 H157.0 L157.0 672.0 H156.0 L156.0 672.0 H155.0 L155.0 672.0 H154.0 L154.0 672.0 H153.0 L153.0 672.0 H152.0 L152.0 672.0 H151.0 L151.0 672.0 H150.0 L150.0 672.0 H149.0 L149.0 672.0 H148.0 L148.0 672.0 H147.0 L147.0 672.0 H146.0 L146.0 672.0 H145.0 L145.0 672.0 H144.0 L144.0 672.0 H143.0 L143.0 672.0 H142.0 L142.0 672.0 H141.0 L141.0 672.0 H140.0 L140.0 672.0 H139.0 L139.0 672.0 H138.0 L138.0 672.0 H137.0 L137.0 672.0 H136.0 L136.0 672.0 H135.0 L135.0 672.0 H134.0 L134.0 672.0 H133.0 L133.0 672.0 H132.0 L132.0 672.0 H131.0 L131.0 672.0 H130.0 L130.0 672.0 H129.0 L129.0 672.0 H128.0 L128.0 672.0 H127.0 L127.0 672.0 H126.0 L126.0 672.0 H125.0 L125.0 672.0 H124.0 L124.0 672.0 H123.0 L123.0 672.0 H122.0 L122.0 672.0 H121.0 L121.0 672.0 H120.0 L120.0 672.0 H119.0 L119.0 672.0 H118.0 L118.0 672.0 H117.0 L117.0 672.0 H116.0 L116.0 672.0 H115.0 L115.0 672.0 H114.0 L114.0 672.0 H113.0 L113.0 672.0 H112.0 L112.0 672.0 H111.0 L111.0 672.0 H110.0 L110.0 672.0 H109.0 L109.0 672.0 H108.0 L108.0 672.0 H107.0 L107.0 672.0 H106.0 L106.0 672.0 H105.0 Z"/></clipPath>
</defs>
<rect width="1200" height="800" fill="#fff"/>
<rect x="105.0" y="55.0" width="808.5" height="617.0" fill="#808080"/>
<g clip-path="url(#cc)"><g filter="url(#cf)">
<rect x="60" y="400" width="640" height="310" fill="#7e7e7e"/>
<g filter="url(#bw)">
<rect x="40" y="380" width="700" height="350" fill="#7e7e7e" opacity="1"/>
<rect x="80" y="641" width="600" height="40" fill="#747474" opacity="1"/>
<rect x="80" y="641" width="230" height="40" fill="#7e7e7e" opacity="0.85"/>
<ellipse cx="135" cy="590" rx="45" ry="48" fill="#888888" opacity="0.85"/>
<ellipse cx="118" cy="572" rx="18" ry="30" fill="#8b8b8b" opacity="0.7"/>
<ellipse cx="170" cy="560" rx="25" ry="45" fill="#858585" opacity="0.6"/>
<rect x="95" y="480" width="100" height="62" fill="#828282" opacity="0.8"/>
<ellipse cx="113" cy="533" rx="10" ry="7" fill="#595959" opacity="0.9"/>
<ellipse cx="121" cy="602" rx="6" ry="11" fill="#595959" opacity="0.8"/>
<ellipse cx="214" cy="531" rx="36" ry="18" fill="#595959" opacity="0.9"/>
<ellipse cx="209" cy="531" rx="6" ry="9" fill="#262626" opacity="0.95"/>
<ellipse cx="217" cy="527" rx="4" ry="7" fill="#292929" opacity="0.9"/>
<ellipse cx="262" cy="541" rx="26" ry="24" fill="#595959" opacity="0.85"/>
<ellipse cx="251" cy="547" rx="4.5" ry="8" fill="#262626" opacity="0.95"/>
<ellipse cx="279" cy="531" rx="6" ry="9" fill="#363636" opacity="0.8"/>
<ellipse cx="200" cy="582" rx="22" ry="17" fill="#606060" opacity="0.85"/>
<ellipse cx="208" cy="588" rx="3.5" ry="4" fill="#2b2b2b" opacity="0.9"/>
<ellipse cx="220" cy="573" rx="3" ry="5" fill="#333333" opacity="0.85"/>
<ellipse cx="198" cy="588" rx="4.5" ry="5" fill="#292929" opacity="0.95"/>
<ellipse cx="232" cy="570" rx="10" ry="12" fill="#636363" opacity="0.6"/>
<ellipse cx="256" cy="575" rx="17" ry="28" fill="#8a8a8a" opacity="0.8"/>
<ellipse cx="265" cy="573" rx="5" ry="25" fill="#939393" opacity="0.85"/>
<ellipse cx="222" cy="600" rx="22" ry="22" fill="#868686" opacity="0.6"/>
<ellipse cx="345" cy="495" rx="45" ry="28" fill="#757575" opacity="0.65"/>
<ellipse cx="310" cy="482" rx="9" ry="13" fill="#5c5c5c" opacity="0.7"/>
<ellipse cx="365" cy="490" rx="9" ry="10" fill="#5c5c5c" opacity="0.7"/>
<ellipse cx="320" cy="508" rx="16" ry="14" fill="#696969" opacity="0.5"/>
<ellipse cx="372" cy="480" rx="20" ry="14" fill="#707070" opacity="0.5"/>
<ellipse cx="300" cy="525" rx="25" ry="14" fill="#838383" opacity="0.6"/>
<ellipse cx="370" cy="530" rx="40" ry="12" fill="#828282" opacity="0.5"/>
<ellipse cx="340" cy="574" rx="62" ry="28" fill="#545454" opacity="0.92"/>
<ellipse cx="317" cy="572" rx="17" ry="20" fill="#2e2e2e" opacity="0.8"/>
<ellipse cx="348" cy="561" rx="12" ry="8" fill="#3d3d3d" opacity="0.7"/>
<ellipse cx="300" cy="590" rx="18" ry="8" fill="#4c4c4c" opacity="0.8"/>
<ellipse cx="362" cy="578" rx="10" ry="12" fill="#424242" opacity="0.6"/>
<ellipse cx="405" cy="585" rx="28" ry="42" fill="#545454" opacity="0.9"/>
<ellipse cx="390" cy="599" rx="5" ry="6" fill="#333333" opacity="0.8"/>
<ellipse cx="417" cy="582" rx="4" ry="14" fill="#292929" opacity="0.9"/>
<ellipse cx="422" cy="608" rx="4" ry="16" fill="#292929" opacity="0.9"/>
<ellipse cx="449" cy="596" rx="2.5" ry="10" fill="#383838" opacity="0.85"/>
<ellipse cx="422" cy="517" rx="8" ry="40" fill="#5c5c5c" opacity="0.8"/>
<ellipse cx="350" cy="621" rx="12" ry="9" fill="#5e5e5e" opacity="0.8"/>
<ellipse cx="310" cy="622" rx="20" ry="8" fill="#707070" opacity="0.6"/>
<ellipse cx="450" cy="560" rx="12" ry="45" fill="#696969" opacity="0.6"/>
<ellipse cx="470" cy="610" rx="20" ry="20" fill="#6b6b6b" opacity="0.6"/>
<ellipse cx="520" cy="600" rx="30" ry="30" fill="#6e6e6e" opacity="0.5"/>
<ellipse cx="565" cy="597" rx="22" ry="32" fill="#5e5e5e" opacity="0.8"/>
<ellipse cx="557" cy="585" rx="3" ry="10" fill="#3d3d3d" opacity="0.7"/>
<ellipse cx="575" cy="600" rx="3" ry="10" fill="#424242" opacity="0.6"/>
<ellipse cx="545" cy="615" rx="3" ry="8" fill="#454545" opacity="0.6"/>
<ellipse cx="485" cy="555" rx="18" ry="35" fill="#878787" opacity="0.7"/>
<ellipse cx="540" cy="520" rx="60" ry="35" fill="#838383" opacity="0.6"/>
<ellipse cx="615" cy="520" rx="25" ry="40" fill="#838383" opacity="0.7"/>
<ellipse cx="500" cy="500" rx="40" ry="25" fill="#828282" opacity="0.5"/>
<ellipse cx="440" cy="500" rx="25" ry="30" fill="#828282" opacity="0.5"/>
</g><g filter="url(#b1)">
<path d="M95 636 L190 636 L210 638.5 L280 639 L400 638 L450 636 L500 636 L520 634 L585 633" stroke="#8f8f8f" stroke-width="7" fill="none" opacity="0.5"/>
<rect x="200" y="643" width="380" height="5" fill="#6e6e6e" opacity="0.6"/>
<path d="M151 640 L163 675" stroke="#989898" stroke-width="8.5" fill="none" opacity="0.95"/>
</g></g>
<g filter="url(#cf2)"><path d="M95 636 L190 636 L210 638.5 L280 639 L400 638 L450 636 L500 636 L520 634 L585 633" stroke="#949494" stroke-width="4.6" fill="none"/></g>
</g>
<g shape-rendering="crispEdges">
<path fill="#905600" d="M105.0 200.20h1v1.6h-1zM105.0 214.15h1v1.6h-1zM105.0 215.70h1v1.6h-1zM105.0 217.25h1v1.6h-1zM105.0 218.80h1v1.6h-1zM105.0 220.35h1v1.6h-1zM105.0 225.00h1v1.6h-1zM106.0 209.50h1v1.6h-1zM107.0 198.65h1v1.6h-1zM107.0 201.75h1v1.6h-1zM107.0 206.40h1v1.6h-1zM107.0 207.95h1v1.6h-1zM107.0 215.70h1v1.6h-1zM108.0 200.20h1v1.6h-1zM109.0 207.95h1v1.6h-1zM109.0 209.50h1v1.6h-1zM109.0 211.05h1v1.6h-1zM109.0 212.60h1v1.6h-1zM111.0 201.75h1v1.6h-1zM111.0 203.30h1v1.6h-1zM111.0 206.40h1v1.6h-1zM111.0 207.95h1v1.6h-1zM111.0 209.50h1v1.6h-1zM111.0 215.70h1v1.6h-1zM111.0 217.25h1v1.6h-1zM111.0 218.80h1v1.6h-1zM111.0 220.35h1v1.6h-1zM112.0 200.20h1v1.6h-1zM112.0 201.75h1v1.6h-1zM112.0 206.40h1v1.6h-1zM112.0 207.95h1v1.6h-1zM113.0 198.65h1v1.6h-1zM113.0 217.25h1v1.6h-1zM113.0 218.80h1v1.6h-1zM116.0 204.85h1v1.6h-1zM116.0 206.40h1v1.6h-1zM116.0 207.95h1v1.6h-1zM116.0 214.15h1v1.6h-1zM116.0 215.70h1v1.6h-1zM116.0 217.25h1v1.6h-1zM117.0 207.95h1v1.6h-1zM117.0 209.50h1v1.6h-1zM117.0 218.80h1v1.6h-1zM117.0 220.35h1v1.6h-1zM118.0 215.70h1v1.6h-1zM119.0 203.30h1v1.6h-1zM120.0 211.05h1v1.6h-1zM120.0 212.60h1v1.6h-1zM121.0 206.40h1v1.6h-1zM121.0 207.95h1v1.6h-1zM121.0 209.50h1v1.6h-1zM121.0 211.05h1v1.6h-1zM122.0 206.40h1v1.6h-1zM122.0 207.95h1v1.6h-1zM122.0 209.50h1v1.6h-1zM122.0 214.15h1v1.6h-1zM122.0 215.70h1v1.6h-1zM122.0 217.25h1v1.6h-1zM124.0 203.30h1v1.6h-1zM124.0 204.85h1v1.6h-1zM124.0 209.50h1v1.6h-1zM125.0 203.30h1v1.6h-1zM125.0 204.85h1v1.6h-1zM125.0 206.40h1v1.6h-1zM125.0 209.50h1v1.6h-1zM125.0 211.05h1v1.6h-1zM125.0 214.15h1v1.6h-1zM125.0 215.70h1v1.6h-1zM126.0 201.75h1v1.6h-1zM126.0 217.25h1v1.6h-1zM126.0 221.90h1v1.6h-1zM127.0 212.60h1v1.6h-1zM128.0 201.75h1v1.6h-1zM128.0 215.70h1v1.6h-1zM129.0 201.75h1v1.6h-1zM129.0 203.30h1v1.6h-1zM130.0 204.85h1v1.6h-1zM130.0 207.95h1v1.6h-1zM131.0 204.85h1v1.6h-1zM131.0 215.70h1v1.6h-1zM132.0 200.20h1v1.6h-1zM132.0 209.50h1v1.6h-1zM132.0 211.05h1v1.6h-1zM132.0 212.60h1v1.6h-1zM132.0 214.15h1v1.6h-1zM133.0 203.30h1v1.6h-1zM133.0 214.15h1v1.6h-1zM134.0 198.65h1v1.6h-1zM134.0 200.20h1v1.6h-1zM134.0 201.75h1v1.6h-1zM134.0 203.30h1v1.6h-1zM135.0 206.40h1v1.6h-1zM135.0 207.95h1v1.6h-1zM136.0 218.80h1v1.6h-1zM136.0 220.35h1v1.6h-1zM137.0 212.60h1v1.6h-1zM137.0 214.15h1v1.6h-1zM139.0 221.90h1v1.6h-1zM140.0 203.30h1v1.6h-1zM140.0 204.85h1v1.6h-1zM143.0 214.15h1v1.6h-1zM144.0 201.75h1v1.6h-1zM144.0 203.30h1v1.6h-1zM144.0 212.60h1v1.6h-1zM145.0 212.60h1v1.6h-1zM145.0 214.15h1v1.6h-1zM146.0 203.30h1v1.6h-1zM146.0 207.95h1v1.6h-1zM146.0 209.50h1v1.6h-1zM146.0 212.60h1v1.6h-1zM146.0 214.15h1v1.6h-1zM147.0 200.20h1v1.6h-1zM148.0 207.95h1v1.6h-1zM148.0 215.70h1v1.6h-1zM149.0 211.05h1v1.6h-1zM150.0 209.50h1v1.6h-1zM151.0 209.50h1v1.6h-1zM154.0 206.40h1v1.6h-1zM154.0 207.95h1v1.6h-1zM154.0 217.25h1v1.6h-1zM155.0 214.15h1v1.6h-1zM155.0 218.80h1v1.6h-1zM155.0 220.35h1v1.6h-1zM156.0 217.25h1v1.6h-1zM157.0 217.25h1v1.6h-1zM158.0 206.40h1v1.6h-1zM158.0 207.95h1v1.6h-1zM158.0 209.50h1v1.6h-1zM158.0 217.25h1v1.6h-1zM159.0 203.30h1v1.6h-1zM159.0 204.85h1v1.6h-1zM160.0 212.60h1v1.6h-1zM160.0 214.15h1v1.6h-1zM161.0 215.70h1v1.6h-1zM161.0 217.25h1v1.6h-1zM163.0 206.40h1v1.6h-1zM163.0 212.60h1v1.6h-1zM163.0 218.80h1v1.6h-1zM163.0 220.35h1v1.6h-1zM164.0 206.40h1v1.6h-1zM164.0 207.95h1v1.6h-1zM165.0 209.50h1v1.6h-1zM165.0 211.05h1v1.6h-1zM165.0 212.60h1v1.6h-1zM166.0 200.20h1v1.6h-1zM167.0 204.85h1v1.6h-1zM168.0 204.85h1v1.6h-1zM168.0 206.40h1v1.6h-1zM168.0 207.95h1v1.6h-1zM177.0 209.50h1v1.6h-1zM177.0 212.60h1v1.6h-1zM178.0 204.85h1v1.6h-1zM181.0 214.15h1v1.6h-1zM105.0 190.35h1v1.6h-1zM107.0 191.90h1v1.6h-1zM110.0 174.85h1v1.6h-1zM110.0 176.40h1v1.6h-1zM112.0 167.10h1v1.6h-1zM112.0 171.75h1v1.6h-1zM116.0 177.95h1v1.6h-1zM116.0 179.50h1v1.6h-1zM116.0 181.05h1v1.6h-1zM116.0 182.60h1v1.6h-1zM116.0 184.15h1v1.6h-1zM118.0 182.60h1v1.6h-1zM118.0 190.35h1v1.6h-1zM118.0 202.75h1v1.6h-1zM119.0 173.30h1v1.6h-1zM119.0 187.25h1v1.6h-1zM119.0 188.80h1v1.6h-1zM119.0 190.35h1v1.6h-1zM122.0 182.60h1v1.6h-1zM123.0 182.60h1v1.6h-1zM124.0 185.70h1v1.6h-1zM126.0 181.05h1v1.6h-1zM127.0 196.55h1v1.6h-1zM133.0 174.85h1v1.6h-1zM134.0 191.90h1v1.6h-1zM134.0 193.45h1v1.6h-1zM135.0 181.05h1v1.6h-1zM135.0 182.60h1v1.6h-1zM135.0 184.15h1v1.6h-1zM136.0 173.30h1v1.6h-1zM136.0 177.95h1v1.6h-1zM136.0 181.05h1v1.6h-1zM136.0 182.60h1v1.6h-1zM137.0 181.05h1v1.6h-1zM139.0 182.60h1v1.6h-1zM141.0 173.30h1v1.6h-1zM142.0 168.65h1v1.6h-1zM144.0 184.15h1v1.6h-1zM147.0 188.80h1v1.6h-1zM148.0 193.45h1v1.6h-1zM149.0 196.55h1v1.6h-1zM151.0 173.30h1v1.6h-1zM151.0 174.85h1v1.6h-1zM151.0 195.00h1v1.6h-1zM152.0 173.30h1v1.6h-1zM152.0 179.50h1v1.6h-1zM153.0 173.30h1v1.6h-1zM156.0 196.55h1v1.6h-1zM160.0 190.35h1v1.6h-1zM162.0 185.70h1v1.6h-1zM162.0 187.25h1v1.6h-1zM164.0 193.45h1v1.6h-1zM164.0 195.00h1v1.6h-1zM166.0 185.70h1v1.6h-1zM166.0 187.25h1v1.6h-1zM166.0 188.80h1v1.6h-1zM167.0 191.90h1v1.6h-1zM167.0 193.45h1v1.6h-1zM167.0 195.00h1v1.6h-1zM169.0 181.05h1v1.6h-1zM169.0 182.60h1v1.6h-1zM169.0 198.10h1v1.6h-1zM173.0 184.15h1v1.6h-1zM173.0 185.70h1v1.6h-1zM173.0 187.25h1v1.6h-1zM176.0 181.05h1v1.6h-1zM177.0 177.95h1v1.6h-1zM177.0 196.55h1v1.6h-1zM178.0 191.90h1v1.6h-1zM179.0 199.65h1v1.6h-1zM180.0 179.50h1v1.6h-1zM180.0 181.05h1v1.6h-1zM180.0 182.60h1v1.6h-1zM180.0 191.90h1v1.6h-1zM180.0 193.45h1v1.6h-1zM181.0 176.40h1v1.6h-1zM181.0 177.95h1v1.6h-1zM181.0 182.60h1v1.6h-1zM181.0 184.15h1v1.6h-1zM181.0 196.55h1v1.6h-1zM182.0 177.95h1v1.6h-1zM182.0 185.70h1v1.6h-1zM182.0 187.25h1v1.6h-1zM182.0 193.45h1v1.6h-1zM185.0 185.70h1v1.6h-1zM185.0 187.25h1v1.6h-1zM185.0 191.90h1v1.6h-1zM185.0 193.45h1v1.6h-1zM185.0 195.00h1v1.6h-1zM186.0 176.40h1v1.6h-1zM186.0 177.95h1v1.6h-1zM187.0 177.95h1v1.6h-1zM187.0 179.50h1v1.6h-1zM187.0 181.05h1v1.6h-1zM187.0 182.60h1v1.6h-1zM187.0 184.15h1v1.6h-1zM187.0 185.70h1v1.6h-1zM187.0 187.25h1v1.6h-1zM187.0 195.00h1v1.6h-1zM187.0 196.55h1v1.6h-1zM188.0 191.90h1v1.6h-1zM189.0 170.20h1v1.6h-1zM190.0 193.45h1v1.6h-1zM191.0 182.60h1v1.6h-1zM191.0 184.15h1v1.6h-1zM191.0 185.70h1v1.6h-1zM191.0 187.25h1v1.6h-1zM193.0 182.60h1v1.6h-1zM193.0 187.25h1v1.6h-1zM196.0 173.30h1v1.6h-1zM196.0 174.85h1v1.6h-1zM196.0 179.50h1v1.6h-1zM200.0 182.60h1v1.6h-1zM201.0 187.25h1v1.6h-1zM203.0 179.50h1v1.6h-1zM205.0 170.20h1v1.6h-1zM132.0 159.55h1v1.6h-1zM136.0 161.10h1v1.6h-1zM147.0 161.10h1v1.6h-1zM232.0 171.55h1v1.6h-1zM233.0 176.20h1v1.6h-1zM234.0 182.40h1v1.6h-1zM234.0 183.95h1v1.6h-1zM237.0 176.20h1v1.6h-1zM240.0 174.65h1v1.6h-1zM242.0 180.85h1v1.6h-1zM249.0 176.20h1v1.6h-1zM249.0 177.75h1v1.6h-1zM249.0 180.85h1v1.6h-1zM250.0 173.10h1v1.6h-1zM257.0 180.85h1v1.6h-1zM259.0 177.75h1v1.6h-1zM216.0 207.05h1v1.6h-1zM218.0 196.20h1v1.6h-1zM229.0 193.10h1v1.6h-1zM245.0 196.20h1v1.6h-1zM288.0 194.95h1v1.6h-1zM289.0 188.75h1v1.6h-1zM289.0 190.30h1v1.6h-1zM289.0 191.85h1v1.6h-1zM291.0 198.05h1v1.6h-1zM292.0 196.50h1v1.6h-1zM303.0 193.40h1v1.6h-1zM303.0 194.95h1v1.6h-1zM303.0 196.50h1v1.6h-1zM416.0 190.40h1v1.6h-1zM416.0 191.95h1v1.6h-1zM420.0 188.85h1v1.6h-1zM420.0 198.15h1v1.6h-1zM421.0 179.55h1v1.6h-1zM421.0 184.20h1v1.6h-1zM421.0 185.75h1v1.6h-1zM422.0 185.75h1v1.6h-1zM422.0 187.30h1v1.6h-1zM422.0 188.85h1v1.6h-1zM422.0 190.40h1v1.6h-1zM422.0 191.95h1v1.6h-1zM498.0 217.00h1v1.6h-1zM500.0 220.10h1v1.6h-1zM525.0 227.20h1v1.6h-1zM525.0 228.75h1v1.6h-1zM526.0 227.20h1v1.6h-1zM528.0 225.65h1v1.6h-1zM530.0 228.75h1v1.6h-1zM531.0 230.30h1v1.6h-1zM532.0 222.55h1v1.6h-1zM533.0 231.85h1v1.6h-1zM534.0 227.20h1v1.6h-1zM535.0 227.20h1v1.6h-1zM548.0 217.00h1v1.6h-1zM548.0 227.85h1v1.6h-1zM551.0 223.20h1v1.6h-1zM555.0 226.30h1v1.6h-1zM559.0 226.30h1v1.6h-1zM561.0 224.75h1v1.6h-1zM569.0 229.40h1v1.6h-1zM265.5 518.5h1v1.9h-1zM150.0 447.0h1.5v1.6h-1.5zM751.0 657.0h2.25v1.8h-2.25zM613.0 658.8h1.5v2.3h-1.5zM705.2 658.8h3v2.3h-3z"/>
<path fill="#826a00" d="M105.0 201.75h1v1.6h-1zM106.0 200.20h1v1.6h-1zM106.0 201.75h1v1.6h-1zM106.0 203.30h1v1.6h-1zM106.0 204.85h1v1.6h-1zM106.0 212.60h1v1.6h-1zM106.0 214.15h1v1.6h-1zM107.0 200.20h1v1.6h-1zM107.0 211.05h1v1.6h-1zM107.0 212.60h1v1.6h-1zM108.0 209.50h1v1.6h-1zM108.0 211.05h1v1.6h-1zM109.0 201.75h1v1.6h-1zM109.0 203.30h1v1.6h-1zM109.0 221.90h1v1.6h-1zM109.0 223.45h1v1.6h-1zM110.0 203.30h1v1.6h-1zM110.0 204.85h1v1.6h-1zM110.0 206.40h1v1.6h-1zM110.0 207.95h1v1.6h-1zM110.0 209.50h1v1.6h-1zM110.0 215.70h1v1.6h-1zM110.0 217.25h1v1.6h-1zM111.0 200.20h1v1.6h-1zM112.0 197.10h1v1.6h-1zM112.0 217.25h1v1.6h-1zM112.0 218.80h1v1.6h-1zM113.0 201.75h1v1.6h-1zM113.0 203.30h1v1.6h-1zM114.0 220.35h1v1.6h-1zM115.0 204.85h1v1.6h-1zM115.0 215.70h1v1.6h-1zM115.0 217.25h1v1.6h-1zM115.0 218.80h1v1.6h-1zM116.0 218.80h1v1.6h-1zM117.0 198.65h1v1.6h-1zM117.0 211.05h1v1.6h-1zM117.0 212.60h1v1.6h-1zM117.0 214.15h1v1.6h-1zM117.0 215.70h1v1.6h-1zM118.0 200.20h1v1.6h-1zM118.0 201.75h1v1.6h-1zM118.0 204.85h1v1.6h-1zM119.0 209.50h1v1.6h-1zM119.0 211.05h1v1.6h-1zM119.0 214.15h1v1.6h-1zM119.0 215.70h1v1.6h-1zM119.0 217.25h1v1.6h-1zM119.0 218.80h1v1.6h-1zM119.0 220.35h1v1.6h-1zM121.0 200.20h1v1.6h-1zM121.0 201.75h1v1.6h-1zM121.0 203.30h1v1.6h-1zM121.0 204.85h1v1.6h-1zM123.0 203.30h1v1.6h-1zM123.0 204.85h1v1.6h-1zM124.0 206.40h1v1.6h-1zM124.0 207.95h1v1.6h-1zM124.0 211.05h1v1.6h-1zM124.0 220.35h1v1.6h-1zM124.0 221.90h1v1.6h-1zM125.0 207.95h1v1.6h-1zM125.0 212.60h1v1.6h-1zM125.0 221.90h1v1.6h-1zM126.0 203.30h1v1.6h-1zM126.0 204.85h1v1.6h-1zM126.0 206.40h1v1.6h-1zM126.0 207.95h1v1.6h-1zM126.0 209.50h1v1.6h-1zM126.0 211.05h1v1.6h-1zM126.0 212.60h1v1.6h-1zM126.0 214.15h1v1.6h-1zM126.0 215.70h1v1.6h-1zM127.0 209.50h1v1.6h-1zM127.0 211.05h1v1.6h-1zM127.0 214.15h1v1.6h-1zM127.0 215.70h1v1.6h-1zM128.0 217.25h1v1.6h-1zM128.0 218.80h1v1.6h-1zM130.0 203.30h1v1.6h-1zM131.0 201.75h1v1.6h-1zM131.0 203.30h1v1.6h-1zM131.0 206.40h1v1.6h-1zM131.0 207.95h1v1.6h-1zM131.0 220.35h1v1.6h-1zM132.0 218.80h1v1.6h-1zM133.0 201.75h1v1.6h-1zM133.0 206.40h1v1.6h-1zM133.0 207.95h1v1.6h-1zM133.0 209.50h1v1.6h-1zM134.0 207.95h1v1.6h-1zM134.0 209.50h1v1.6h-1zM134.0 211.05h1v1.6h-1zM134.0 217.25h1v1.6h-1zM134.0 218.80h1v1.6h-1zM135.0 209.50h1v1.6h-1zM135.0 211.05h1v1.6h-1zM135.0 215.70h1v1.6h-1zM135.0 217.25h1v1.6h-1zM135.0 218.80h1v1.6h-1zM136.0 206.40h1v1.6h-1zM137.0 204.85h1v1.6h-1zM137.0 206.40h1v1.6h-1zM137.0 211.05h1v1.6h-1zM138.0 218.80h1v1.6h-1zM140.0 206.40h1v1.6h-1zM140.0 207.95h1v1.6h-1zM140.0 209.50h1v1.6h-1zM140.0 211.05h1v1.6h-1zM141.0 217.25h1v1.6h-1zM141.0 218.80h1v1.6h-1zM142.0 206.40h1v1.6h-1zM143.0 204.85h1v1.6h-1zM143.0 206.40h1v1.6h-1zM143.0 212.60h1v1.6h-1zM146.0 201.75h1v1.6h-1zM146.0 215.70h1v1.6h-1zM146.0 217.25h1v1.6h-1zM146.0 218.80h1v1.6h-1zM146.0 220.35h1v1.6h-1zM147.0 201.75h1v1.6h-1zM149.0 200.20h1v1.6h-1zM149.0 203.30h1v1.6h-1zM149.0 204.85h1v1.6h-1zM150.0 198.65h1v1.6h-1zM150.0 204.85h1v1.6h-1zM151.0 206.40h1v1.6h-1zM152.0 207.95h1v1.6h-1zM154.0 211.05h1v1.6h-1zM154.0 212.60h1v1.6h-1zM155.0 198.65h1v1.6h-1zM155.0 200.20h1v1.6h-1zM155.0 212.60h1v1.6h-1zM156.0 209.50h1v1.6h-1zM156.0 214.15h1v1.6h-1zM156.0 215.70h1v1.6h-1zM157.0 218.80h1v1.6h-1zM158.0 201.75h1v1.6h-1zM159.0 209.50h1v1.6h-1zM159.0 211.05h1v1.6h-1zM161.0 203.30h1v1.6h-1zM162.0 211.05h1v1.6h-1zM163.0 207.95h1v1.6h-1zM163.0 209.50h1v1.6h-1zM163.0 211.05h1v1.6h-1zM165.0 214.15h1v1.6h-1zM166.0 218.80h1v1.6h-1zM167.0 211.05h1v1.6h-1zM167.0 212.60h1v1.6h-1zM167.0 214.15h1v1.6h-1zM167.0 215.70h1v1.6h-1zM169.0 214.15h1v1.6h-1zM170.0 209.50h1v1.6h-1zM171.0 206.40h1v1.6h-1zM174.0 209.50h1v1.6h-1zM174.0 212.60h1v1.6h-1zM176.0 203.30h1v1.6h-1zM176.0 207.95h1v1.6h-1zM107.0 181.05h1v1.6h-1zM110.0 173.30h1v1.6h-1zM111.0 182.60h1v1.6h-1zM111.0 185.70h1v1.6h-1zM113.0 187.25h1v1.6h-1zM113.0 188.80h1v1.6h-1zM114.0 185.70h1v1.6h-1zM114.0 187.25h1v1.6h-1zM114.0 199.65h1v1.6h-1zM117.0 181.05h1v1.6h-1zM117.0 182.60h1v1.6h-1zM119.0 191.90h1v1.6h-1zM119.0 193.45h1v1.6h-1zM120.0 176.40h1v1.6h-1zM120.0 177.95h1v1.6h-1zM121.0 177.95h1v1.6h-1zM123.0 191.90h1v1.6h-1zM125.0 188.80h1v1.6h-1zM125.0 190.35h1v1.6h-1zM127.0 181.05h1v1.6h-1zM128.0 176.40h1v1.6h-1zM129.0 182.60h1v1.6h-1zM130.0 179.50h1v1.6h-1zM131.0 184.15h1v1.6h-1zM133.0 179.50h1v1.6h-1zM133.0 181.05h1v1.6h-1zM133.0 185.70h1v1.6h-1zM133.0 187.25h1v1.6h-1zM136.0 176.40h1v1.6h-1zM136.0 179.50h1v1.6h-1zM137.0 174.85h1v1.6h-1zM138.0 181.05h1v1.6h-1zM139.0 179.50h1v1.6h-1zM139.0 181.05h1v1.6h-1zM139.0 184.15h1v1.6h-1zM141.0 184.15h1v1.6h-1zM141.0 185.70h1v1.6h-1zM142.0 179.50h1v1.6h-1zM142.0 181.05h1v1.6h-1zM142.0 188.80h1v1.6h-1zM142.0 190.35h1v1.6h-1zM144.0 188.80h1v1.6h-1zM144.0 190.35h1v1.6h-1zM145.0 188.80h1v1.6h-1zM146.0 176.40h1v1.6h-1zM146.0 184.15h1v1.6h-1zM146.0 185.70h1v1.6h-1zM147.0 173.30h1v1.6h-1zM150.0 179.50h1v1.6h-1zM151.0 185.70h1v1.6h-1zM151.0 187.25h1v1.6h-1zM151.0 188.80h1v1.6h-1zM151.0 193.45h1v1.6h-1zM152.0 181.05h1v1.6h-1zM154.0 176.40h1v1.6h-1zM155.0 173.30h1v1.6h-1zM155.0 174.85h1v1.6h-1zM155.0 181.05h1v1.6h-1zM155.0 190.35h1v1.6h-1zM156.0 176.40h1v1.6h-1zM156.0 177.95h1v1.6h-1zM156.0 179.50h1v1.6h-1zM156.0 193.45h1v1.6h-1zM157.0 181.05h1v1.6h-1zM158.0 176.40h1v1.6h-1zM160.0 188.80h1v1.6h-1zM161.0 185.70h1v1.6h-1zM161.0 188.80h1v1.6h-1zM162.0 191.90h1v1.6h-1zM163.0 182.60h1v1.6h-1zM163.0 184.15h1v1.6h-1zM163.0 191.90h1v1.6h-1zM163.0 193.45h1v1.6h-1zM163.0 195.00h1v1.6h-1zM164.0 191.90h1v1.6h-1zM168.0 182.60h1v1.6h-1zM168.0 184.15h1v1.6h-1zM169.0 190.35h1v1.6h-1zM171.0 191.90h1v1.6h-1zM172.0 176.40h1v1.6h-1zM172.0 177.95h1v1.6h-1zM173.0 174.85h1v1.6h-1zM173.0 198.10h1v1.6h-1zM174.0 196.55h1v1.6h-1zM175.0 176.40h1v1.6h-1zM175.0 190.35h1v1.6h-1zM175.0 191.90h1v1.6h-1zM176.0 190.35h1v1.6h-1zM176.0 193.45h1v1.6h-1zM177.0 165.55h1v1.6h-1zM177.0 167.10h1v1.6h-1zM177.0 171.75h1v1.6h-1zM178.0 187.25h1v1.6h-1zM178.0 196.55h1v1.6h-1zM181.0 188.80h1v1.6h-1zM181.0 190.35h1v1.6h-1zM183.0 173.30h1v1.6h-1zM183.0 185.70h1v1.6h-1zM184.0 182.60h1v1.6h-1zM184.0 184.15h1v1.6h-1zM184.0 185.70h1v1.6h-1zM184.0 187.25h1v1.6h-1zM184.0 188.80h1v1.6h-1zM184.0 190.35h1v1.6h-1zM184.0 196.55h1v1.6h-1zM189.0 177.95h1v1.6h-1zM189.0 181.05h1v1.6h-1zM190.0 187.25h1v1.6h-1zM190.0 188.80h1v1.6h-1zM190.0 190.35h1v1.6h-1zM190.0 199.65h1v1.6h-1zM193.0 184.15h1v1.6h-1zM195.0 174.85h1v1.6h-1zM195.0 191.90h1v1.6h-1zM196.0 176.40h1v1.6h-1zM197.0 176.40h1v1.6h-1zM197.0 177.95h1v1.6h-1zM197.0 191.90h1v1.6h-1zM198.0 185.70h1v1.6h-1zM199.0 185.70h1v1.6h-1zM200.0 185.70h1v1.6h-1zM200.0 187.25h1v1.6h-1zM202.0 184.15h1v1.6h-1zM210.0 164.00h1v1.6h-1zM210.0 185.70h1v1.6h-1zM210.0 187.25h1v1.6h-1zM211.0 184.15h1v1.6h-1zM211.0 185.70h1v1.6h-1zM119.0 161.10h1v1.6h-1zM124.0 158.00h1v1.6h-1zM129.0 161.10h1v1.6h-1zM133.0 162.65h1v1.6h-1zM136.0 162.65h1v1.6h-1zM146.0 159.55h1v1.6h-1zM240.0 177.75h1v1.6h-1zM241.0 174.65h1v1.6h-1zM242.0 177.75h1v1.6h-1zM246.0 176.20h1v1.6h-1zM247.0 177.75h1v1.6h-1zM248.0 174.65h1v1.6h-1zM249.0 179.30h1v1.6h-1zM250.0 170.00h1v1.6h-1zM250.0 176.20h1v1.6h-1zM251.0 173.10h1v1.6h-1zM251.0 179.30h1v1.6h-1zM217.0 190.00h1v1.6h-1zM217.0 191.55h1v1.6h-1zM219.0 196.20h1v1.6h-1zM219.0 207.05h1v1.6h-1zM222.0 196.20h1v1.6h-1zM228.0 203.95h1v1.6h-1zM235.0 196.20h1v1.6h-1zM237.0 207.05h1v1.6h-1zM243.0 194.65h1v1.6h-1zM243.0 196.20h1v1.6h-1zM243.0 197.75h1v1.6h-1zM243.0 199.30h1v1.6h-1zM243.0 200.85h1v1.6h-1zM249.0 205.50h1v1.6h-1zM287.0 198.05h1v1.6h-1zM289.0 182.55h1v1.6h-1zM293.0 185.65h1v1.6h-1zM297.0 181.00h1v1.6h-1zM304.0 194.95h1v1.6h-1zM418.0 195.05h1v1.6h-1zM418.0 196.60h1v1.6h-1zM420.0 182.65h1v1.6h-1zM420.0 184.20h1v1.6h-1zM421.0 178.00h1v1.6h-1zM422.0 181.10h1v1.6h-1zM422.0 182.65h1v1.6h-1zM422.0 184.20h1v1.6h-1zM423.0 179.55h1v1.6h-1zM423.0 181.10h1v1.6h-1zM423.0 182.65h1v1.6h-1zM423.0 187.30h1v1.6h-1zM456.0 195.85h1v1.6h-1zM494.0 220.10h1v1.6h-1zM495.0 217.00h1v1.6h-1zM495.0 218.55h1v1.6h-1zM495.0 220.10h1v1.6h-1zM496.0 221.65h1v1.6h-1zM496.0 223.20h1v1.6h-1zM498.0 223.20h1v1.6h-1zM501.0 217.00h1v1.6h-1zM501.0 223.20h1v1.6h-1zM520.0 224.20h1v1.6h-1zM527.0 231.85h1v1.6h-1zM533.0 228.75h1v1.6h-1zM533.0 230.30h1v1.6h-1zM549.0 230.95h1v1.6h-1zM551.0 221.65h1v1.6h-1zM564.0 226.30h1v1.6h-1zM566.0 221.65h1v1.6h-1zM570.0 223.20h1v1.6h-1zM576.0 223.20h1v1.6h-1zM580.0 230.95h1v1.6h-1zM581.0 217.00h1v1.6h-1zM193.5 478.2h1v1.9h-1zM227.2 84.5h1v1.9h-1zM828.0 621.0h2v1.6h-2zM789.8 649.5h2v1.6h-2zM830.2 651.0h3v1.6h-3zM719.5 657.0h3v1.8h-3zM871.8 657.0h1.5v1.8h-1.5z"/>
<path fill="#00961b" d="M105.0 203.30h1v1.6h-1zM105.0 204.85h1v1.6h-1zM105.0 206.40h1v1.6h-1zM105.0 207.95h1v1.6h-1zM105.0 209.50h1v1.6h-1zM109.0 206.40h1v1.6h-1zM108.0 182.60h1v1.6h-1zM153.0 193.45h1v1.6h-1zM146.0 161.10h1v1.6h-1z"/>
<path fill="#9e4100" d="M105.0 211.05h1v1.6h-1zM105.0 212.60h1v1.6h-1zM108.0 204.85h1v1.6h-1zM108.0 206.40h1v1.6h-1zM108.0 207.95h1v1.6h-1zM108.0 215.70h1v1.6h-1zM108.0 217.25h1v1.6h-1zM108.0 218.80h1v1.6h-1zM108.0 220.35h1v1.6h-1zM109.0 204.85h1v1.6h-1zM112.0 212.60h1v1.6h-1zM112.0 214.15h1v1.6h-1zM113.0 200.20h1v1.6h-1zM114.0 214.15h1v1.6h-1zM114.0 215.70h1v1.6h-1zM115.0 221.90h1v1.6h-1zM117.0 206.40h1v1.6h-1zM118.0 206.40h1v1.6h-1zM118.0 207.95h1v1.6h-1zM118.0 209.50h1v1.6h-1zM118.0 211.05h1v1.6h-1zM118.0 212.60h1v1.6h-1zM118.0 217.25h1v1.6h-1zM118.0 218.80h1v1.6h-1zM118.0 220.35h1v1.6h-1zM119.0 207.95h1v1.6h-1zM120.0 209.50h1v1.6h-1zM123.0 211.05h1v1.6h-1zM124.0 201.75h1v1.6h-1zM124.0 218.80h1v1.6h-1zM127.0 218.80h1v1.6h-1zM128.0 204.85h1v1.6h-1zM128.0 206.40h1v1.6h-1zM128.0 207.95h1v1.6h-1zM128.0 209.50h1v1.6h-1zM128.0 211.05h1v1.6h-1zM128.0 212.60h1v1.6h-1zM129.0 209.50h1v1.6h-1zM129.0 211.05h1v1.6h-1zM129.0 212.60h1v1.6h-1zM129.0 214.15h1v1.6h-1zM129.0 217.25h1v1.6h-1zM129.0 218.80h1v1.6h-1zM129.0 220.35h1v1.6h-1zM129.0 221.90h1v1.6h-1zM130.0 214.15h1v1.6h-1zM130.0 215.70h1v1.6h-1zM130.0 217.25h1v1.6h-1zM130.0 218.80h1v1.6h-1zM130.0 220.35h1v1.6h-1zM131.0 209.50h1v1.6h-1zM131.0 211.05h1v1.6h-1zM134.0 204.85h1v1.6h-1zM134.0 212.60h1v1.6h-1zM134.0 214.15h1v1.6h-1zM134.0 215.70h1v1.6h-1zM136.0 200.20h1v1.6h-1zM136.0 201.75h1v1.6h-1zM137.0 215.70h1v1.6h-1zM138.0 206.40h1v1.6h-1zM139.0 209.50h1v1.6h-1zM139.0 211.05h1v1.6h-1zM139.0 220.35h1v1.6h-1zM142.0 209.50h1v1.6h-1zM144.0 206.40h1v1.6h-1zM147.0 206.40h1v1.6h-1zM149.0 206.40h1v1.6h-1zM149.0 207.95h1v1.6h-1zM149.0 209.50h1v1.6h-1zM151.0 214.15h1v1.6h-1zM151.0 215.70h1v1.6h-1zM151.0 217.25h1v1.6h-1zM152.0 209.50h1v1.6h-1zM152.0 211.05h1v1.6h-1zM152.0 212.60h1v1.6h-1zM152.0 214.15h1v1.6h-1zM153.0 204.85h1v1.6h-1zM153.0 212.60h1v1.6h-1zM153.0 214.15h1v1.6h-1zM153.0 215.70h1v1.6h-1zM153.0 217.25h1v1.6h-1zM153.0 218.80h1v1.6h-1zM154.0 204.85h1v1.6h-1zM154.0 214.15h1v1.6h-1zM157.0 204.85h1v1.6h-1zM158.0 204.85h1v1.6h-1zM160.0 203.30h1v1.6h-1zM161.0 201.75h1v1.6h-1zM161.0 214.15h1v1.6h-1zM168.0 212.60h1v1.6h-1zM169.0 211.05h1v1.6h-1zM171.0 218.80h1v1.6h-1zM172.0 217.25h1v1.6h-1zM177.0 218.80h1v1.6h-1zM177.0 220.35h1v1.6h-1zM179.0 215.70h1v1.6h-1zM179.0 217.25h1v1.6h-1zM106.0 191.90h1v1.6h-1zM107.0 177.95h1v1.6h-1zM107.0 179.50h1v1.6h-1zM109.0 181.05h1v1.6h-1zM110.0 184.15h1v1.6h-1zM111.0 181.05h1v1.6h-1zM117.0 188.80h1v1.6h-1zM117.0 190.35h1v1.6h-1zM119.0 198.10h1v1.6h-1zM119.0 199.65h1v1.6h-1zM121.0 193.45h1v1.6h-1zM122.0 165.55h1v1.6h-1zM127.0 171.75h1v1.6h-1zM129.0 179.50h1v1.6h-1zM129.0 181.05h1v1.6h-1zM130.0 177.95h1v1.6h-1zM133.0 173.30h1v1.6h-1zM133.0 188.80h1v1.6h-1zM141.0 182.60h1v1.6h-1zM143.0 181.05h1v1.6h-1zM144.0 195.00h1v1.6h-1zM152.0 196.55h1v1.6h-1zM155.0 195.00h1v1.6h-1zM164.0 179.50h1v1.6h-1zM167.0 179.50h1v1.6h-1zM169.0 184.15h1v1.6h-1zM169.0 185.70h1v1.6h-1zM170.0 179.50h1v1.6h-1zM170.0 181.05h1v1.6h-1zM171.0 182.60h1v1.6h-1zM171.0 184.15h1v1.6h-1zM176.0 176.40h1v1.6h-1zM177.0 182.60h1v1.6h-1zM177.0 184.15h1v1.6h-1zM177.0 185.70h1v1.6h-1zM178.0 193.45h1v1.6h-1zM181.0 187.25h1v1.6h-1zM183.0 177.95h1v1.6h-1zM185.0 188.80h1v1.6h-1zM185.0 190.35h1v1.6h-1zM186.0 171.75h1v1.6h-1zM186.0 185.70h1v1.6h-1zM186.0 187.25h1v1.6h-1zM186.0 188.80h1v1.6h-1zM188.0 188.80h1v1.6h-1zM188.0 195.00h1v1.6h-1zM190.0 191.90h1v1.6h-1zM191.0 181.05h1v1.6h-1zM192.0 190.35h1v1.6h-1zM192.0 191.90h1v1.6h-1zM193.0 198.10h1v1.6h-1zM197.0 185.70h1v1.6h-1zM198.0 188.80h1v1.6h-1zM200.0 202.75h1v1.6h-1zM202.0 185.70h1v1.6h-1zM202.0 187.25h1v1.6h-1zM202.0 188.80h1v1.6h-1zM202.0 195.00h1v1.6h-1zM205.0 182.60h1v1.6h-1zM206.0 174.85h1v1.6h-1zM206.0 176.40h1v1.6h-1zM206.0 177.95h1v1.6h-1zM206.0 185.70h1v1.6h-1zM207.0 174.85h1v1.6h-1zM211.0 182.60h1v1.6h-1zM129.0 162.65h1v1.6h-1zM229.0 174.65h1v1.6h-1zM234.0 174.65h1v1.6h-1zM237.0 177.75h1v1.6h-1zM245.0 179.30h1v1.6h-1zM248.0 176.20h1v1.6h-1zM248.0 179.30h1v1.6h-1zM253.0 174.65h1v1.6h-1zM253.0 187.05h1v1.6h-1zM255.0 185.50h1v1.6h-1zM255.0 187.05h1v1.6h-1zM257.0 176.20h1v1.6h-1zM257.0 177.75h1v1.6h-1zM257.0 179.30h1v1.6h-1zM262.0 174.65h1v1.6h-1zM216.0 193.10h1v1.6h-1zM235.0 194.65h1v1.6h-1zM235.0 203.95h1v1.6h-1zM235.0 205.50h1v1.6h-1zM289.0 184.10h1v1.6h-1zM293.0 196.50h1v1.6h-1zM303.0 198.05h1v1.6h-1zM307.0 204.25h1v1.6h-1zM421.0 182.65h1v1.6h-1zM512.0 219.55h1v1.6h-1zM517.0 224.20h1v1.6h-1zM530.0 224.10h1v1.6h-1zM532.0 221.00h1v1.6h-1zM534.0 228.75h1v1.6h-1zM579.0 230.95h1v1.6h-1zM165.8 109.2h1v1.9h-1zM590.2 653.3h1v1.9h-1z"/>
<path fill="#697200" d="M105.0 221.90h1v1.6h-1zM105.0 223.45h1v1.6h-1zM106.0 215.70h1v1.6h-1zM106.0 217.25h1v1.6h-1zM106.0 218.80h1v1.6h-1zM107.0 217.25h1v1.6h-1zM109.0 214.15h1v1.6h-1zM109.0 215.70h1v1.6h-1zM109.0 217.25h1v1.6h-1zM109.0 218.80h1v1.6h-1zM109.0 220.35h1v1.6h-1zM109.0 225.00h1v1.6h-1zM110.0 211.05h1v1.6h-1zM110.0 212.60h1v1.6h-1zM110.0 214.15h1v1.6h-1zM110.0 221.90h1v1.6h-1zM110.0 223.45h1v1.6h-1zM110.0 225.00h1v1.6h-1zM111.0 204.85h1v1.6h-1zM111.0 211.05h1v1.6h-1zM111.0 212.60h1v1.6h-1zM111.0 214.15h1v1.6h-1zM112.0 203.30h1v1.6h-1zM112.0 204.85h1v1.6h-1zM112.0 209.50h1v1.6h-1zM112.0 220.35h1v1.6h-1zM113.0 204.85h1v1.6h-1zM113.0 206.40h1v1.6h-1zM113.0 207.95h1v1.6h-1zM113.0 209.50h1v1.6h-1zM113.0 211.05h1v1.6h-1zM113.0 212.60h1v1.6h-1zM113.0 214.15h1v1.6h-1zM113.0 215.70h1v1.6h-1zM113.0 220.35h1v1.6h-1zM113.0 221.90h1v1.6h-1zM114.0 207.95h1v1.6h-1zM114.0 217.25h1v1.6h-1zM115.0 197.10h1v1.6h-1zM115.0 200.20h1v1.6h-1zM115.0 201.75h1v1.6h-1zM115.0 203.30h1v1.6h-1zM115.0 209.50h1v1.6h-1zM115.0 212.60h1v1.6h-1zM115.0 214.15h1v1.6h-1zM116.0 197.10h1v1.6h-1zM116.0 198.65h1v1.6h-1zM116.0 209.50h1v1.6h-1zM116.0 211.05h1v1.6h-1zM116.0 212.60h1v1.6h-1zM117.0 217.25h1v1.6h-1zM118.0 214.15h1v1.6h-1zM119.0 212.60h1v1.6h-1zM120.0 200.20h1v1.6h-1zM120.0 201.75h1v1.6h-1zM120.0 214.15h1v1.6h-1zM120.0 215.70h1v1.6h-1zM120.0 217.25h1v1.6h-1zM120.0 218.80h1v1.6h-1zM121.0 212.60h1v1.6h-1zM121.0 214.15h1v1.6h-1zM121.0 215.70h1v1.6h-1zM121.0 217.25h1v1.6h-1zM121.0 218.80h1v1.6h-1zM123.0 209.50h1v1.6h-1zM123.0 212.60h1v1.6h-1zM123.0 214.15h1v1.6h-1zM123.0 215.70h1v1.6h-1zM123.0 217.25h1v1.6h-1zM123.0 218.80h1v1.6h-1zM123.0 220.35h1v1.6h-1zM124.0 212.60h1v1.6h-1zM124.0 214.15h1v1.6h-1zM124.0 215.70h1v1.6h-1zM125.0 200.20h1v1.6h-1zM125.0 201.75h1v1.6h-1zM125.0 217.25h1v1.6h-1zM125.0 218.80h1v1.6h-1zM125.0 220.35h1v1.6h-1zM126.0 220.35h1v1.6h-1zM127.0 201.75h1v1.6h-1zM128.0 198.65h1v1.6h-1zM128.0 220.35h1v1.6h-1zM128.0 221.90h1v1.6h-1zM129.0 204.85h1v1.6h-1zM129.0 206.40h1v1.6h-1zM130.0 201.75h1v1.6h-1zM130.0 206.40h1v1.6h-1zM130.0 211.05h1v1.6h-1zM130.0 212.60h1v1.6h-1zM131.0 217.25h1v1.6h-1zM131.0 218.80h1v1.6h-1zM133.0 204.85h1v1.6h-1zM133.0 215.70h1v1.6h-1zM133.0 217.25h1v1.6h-1zM133.0 218.80h1v1.6h-1zM135.0 212.60h1v1.6h-1zM137.0 218.80h1v1.6h-1zM137.0 220.35h1v1.6h-1zM138.0 204.85h1v1.6h-1zM139.0 204.85h1v1.6h-1zM139.0 206.40h1v1.6h-1zM139.0 207.95h1v1.6h-1zM141.0 204.85h1v1.6h-1zM141.0 207.95h1v1.6h-1zM142.0 203.30h1v1.6h-1zM142.0 211.05h1v1.6h-1zM142.0 217.25h1v1.6h-1zM142.0 218.80h1v1.6h-1zM142.0 220.35h1v1.6h-1zM144.0 217.25h1v1.6h-1zM144.0 218.80h1v1.6h-1zM145.0 201.75h1v1.6h-1zM145.0 203.30h1v1.6h-1zM145.0 204.85h1v1.6h-1zM145.0 206.40h1v1.6h-1zM145.0 207.95h1v1.6h-1zM145.0 209.50h1v1.6h-1zM145.0 211.05h1v1.6h-1zM146.0 200.20h1v1.6h-1zM148.0 209.50h1v1.6h-1zM149.0 214.15h1v1.6h-1zM150.0 214.15h1v1.6h-1zM150.0 215.70h1v1.6h-1zM150.0 217.25h1v1.6h-1zM152.0 201.75h1v1.6h-1zM152.0 206.40h1v1.6h-1zM152.0 215.70h1v1.6h-1zM152.0 217.25h1v1.6h-1zM152.0 218.80h1v1.6h-1zM152.0 220.35h1v1.6h-1zM152.0 221.90h1v1.6h-1zM154.0 218.80h1v1.6h-1zM157.0 206.40h1v1.6h-1zM157.0 214.15h1v1.6h-1zM158.0 211.05h1v1.6h-1zM158.0 212.60h1v1.6h-1zM158.0 214.15h1v1.6h-1zM159.0 214.15h1v1.6h-1zM159.0 215.70h1v1.6h-1zM159.0 217.25h1v1.6h-1zM159.0 218.80h1v1.6h-1zM160.0 207.95h1v1.6h-1zM160.0 209.50h1v1.6h-1zM164.0 215.70h1v1.6h-1zM164.0 217.25h1v1.6h-1zM165.0 204.85h1v1.6h-1zM166.0 201.75h1v1.6h-1zM166.0 207.95h1v1.6h-1zM170.0 204.85h1v1.6h-1zM170.0 206.40h1v1.6h-1zM173.0 203.30h1v1.6h-1zM173.0 204.85h1v1.6h-1zM173.0 217.25h1v1.6h-1zM177.0 214.15h1v1.6h-1zM177.0 215.70h1v1.6h-1zM177.0 217.25h1v1.6h-1zM107.0 193.45h1v1.6h-1zM110.0 190.35h1v1.6h-1zM114.0 190.35h1v1.6h-1zM114.0 196.55h1v1.6h-1zM115.0 182.60h1v1.6h-1zM115.0 184.15h1v1.6h-1zM117.0 170.20h1v1.6h-1zM117.0 171.75h1v1.6h-1zM123.0 179.50h1v1.6h-1zM123.0 181.05h1v1.6h-1zM125.0 184.15h1v1.6h-1zM126.0 171.75h1v1.6h-1zM126.0 188.80h1v1.6h-1zM126.0 190.35h1v1.6h-1zM127.0 187.25h1v1.6h-1zM128.0 174.85h1v1.6h-1zM128.0 177.95h1v1.6h-1zM130.0 173.30h1v1.6h-1zM130.0 174.85h1v1.6h-1zM130.0 176.40h1v1.6h-1zM131.0 174.85h1v1.6h-1zM131.0 176.40h1v1.6h-1zM133.0 171.75h1v1.6h-1zM134.0 190.35h1v1.6h-1zM136.0 185.70h1v1.6h-1zM136.0 187.25h1v1.6h-1zM136.0 188.80h1v1.6h-1zM137.0 190.35h1v1.6h-1zM137.0 193.45h1v1.6h-1zM137.0 195.00h1v1.6h-1zM137.0 196.55h1v1.6h-1zM139.0 201.20h1v1.6h-1zM140.0 190.35h1v1.6h-1zM143.0 196.55h1v1.6h-1zM144.0 196.55h1v1.6h-1zM144.0 198.10h1v1.6h-1zM144.0 199.65h1v1.6h-1zM144.0 201.20h1v1.6h-1zM146.0 191.90h1v1.6h-1zM150.0 176.40h1v1.6h-1zM150.0 177.95h1v1.6h-1zM153.0 174.85h1v1.6h-1zM153.0 190.35h1v1.6h-1zM154.0 171.75h1v1.6h-1zM154.0 173.30h1v1.6h-1zM154.0 174.85h1v1.6h-1zM155.0 199.65h1v1.6h-1zM157.0 173.30h1v1.6h-1zM159.0 179.50h1v1.6h-1zM159.0 184.15h1v1.6h-1zM159.0 185.70h1v1.6h-1zM160.0 184.15h1v1.6h-1zM167.0 182.60h1v1.6h-1zM175.0 195.00h1v1.6h-1zM176.0 185.70h1v1.6h-1zM176.0 187.25h1v1.6h-1zM177.0 173.30h1v1.6h-1zM177.0 174.85h1v1.6h-1zM177.0 191.90h1v1.6h-1zM178.0 185.70h1v1.6h-1zM179.0 181.05h1v1.6h-1zM179.0 184.15h1v1.6h-1zM179.0 185.70h1v1.6h-1zM179.0 201.20h1v1.6h-1zM182.0 173.30h1v1.6h-1zM182.0 195.00h1v1.6h-1zM184.0 181.05h1v1.6h-1zM185.0 176.40h1v1.6h-1zM185.0 182.60h1v1.6h-1zM185.0 184.15h1v1.6h-1zM188.0 179.50h1v1.6h-1zM188.0 181.05h1v1.6h-1zM188.0 182.60h1v1.6h-1zM188.0 187.25h1v1.6h-1zM190.0 181.05h1v1.6h-1zM192.0 195.00h1v1.6h-1zM193.0 171.75h1v1.6h-1zM194.0 181.05h1v1.6h-1zM194.0 182.60h1v1.6h-1zM195.0 185.70h1v1.6h-1zM196.0 181.05h1v1.6h-1zM196.0 182.60h1v1.6h-1zM196.0 184.15h1v1.6h-1zM196.0 188.80h1v1.6h-1zM197.0 179.50h1v1.6h-1zM197.0 181.05h1v1.6h-1zM198.0 179.50h1v1.6h-1zM198.0 181.05h1v1.6h-1zM198.0 184.15h1v1.6h-1zM200.0 193.45h1v1.6h-1zM201.0 182.60h1v1.6h-1zM201.0 196.55h1v1.6h-1zM201.0 198.10h1v1.6h-1zM202.0 182.60h1v1.6h-1zM209.0 171.75h1v1.6h-1zM214.0 185.70h1v1.6h-1zM115.0 162.65h1v1.6h-1zM128.0 161.10h1v1.6h-1zM130.0 162.65h1v1.6h-1zM231.0 177.75h1v1.6h-1zM232.0 187.05h1v1.6h-1zM236.0 177.75h1v1.6h-1zM240.0 179.30h1v1.6h-1zM243.0 177.75h1v1.6h-1zM250.0 177.75h1v1.6h-1zM251.0 176.20h1v1.6h-1zM251.0 177.75h1v1.6h-1zM256.0 170.00h1v1.6h-1zM234.0 205.50h1v1.6h-1zM235.0 193.10h1v1.6h-1zM243.0 207.05h1v1.6h-1zM288.0 193.40h1v1.6h-1zM293.0 194.95h1v1.6h-1zM300.0 182.55h1v1.6h-1zM305.0 204.25h1v1.6h-1zM418.0 198.15h1v1.6h-1zM419.0 195.05h1v1.6h-1zM419.0 196.60h1v1.6h-1zM419.0 198.15h1v1.6h-1zM420.0 185.75h1v1.6h-1zM421.0 187.30h1v1.6h-1zM421.0 188.85h1v1.6h-1zM421.0 190.40h1v1.6h-1zM422.0 178.00h1v1.6h-1zM423.0 188.85h1v1.6h-1zM425.0 178.00h1v1.6h-1zM498.0 218.55h1v1.6h-1zM498.0 220.10h1v1.6h-1zM524.0 225.65h1v1.6h-1zM524.0 227.20h1v1.6h-1zM525.0 230.30h1v1.6h-1zM529.0 225.65h1v1.6h-1zM532.0 228.75h1v1.6h-1zM534.0 225.65h1v1.6h-1zM553.0 218.55h1v1.6h-1zM557.0 230.95h1v1.6h-1zM563.0 227.85h1v1.6h-1zM563.0 229.40h1v1.6h-1zM577.0 217.00h1v1.6h-1zM579.0 229.40h1v1.6h-1zM654.0 651.0h1.5v1.6h-1.5zM723.8 651.0h3v1.6h-3z"/>
<path fill="#ad2d00" d="M106.0 206.40h1v1.6h-1zM106.0 207.95h1v1.6h-1zM107.0 218.80h1v1.6h-1zM107.0 220.35h1v1.6h-1zM107.0 221.90h1v1.6h-1zM110.0 201.75h1v1.6h-1zM112.0 215.70h1v1.6h-1zM114.0 209.50h1v1.6h-1zM114.0 211.05h1v1.6h-1zM114.0 212.60h1v1.6h-1zM119.0 204.85h1v1.6h-1zM119.0 206.40h1v1.6h-1zM120.0 207.95h1v1.6h-1zM127.0 203.30h1v1.6h-1zM127.0 204.85h1v1.6h-1zM127.0 206.40h1v1.6h-1zM127.0 207.95h1v1.6h-1zM137.0 217.25h1v1.6h-1zM139.0 212.60h1v1.6h-1zM139.0 214.15h1v1.6h-1zM140.0 212.60h1v1.6h-1zM140.0 214.15h1v1.6h-1zM140.0 215.70h1v1.6h-1zM142.0 214.15h1v1.6h-1zM142.0 215.70h1v1.6h-1zM143.0 203.30h1v1.6h-1zM143.0 217.25h1v1.6h-1zM143.0 218.80h1v1.6h-1zM143.0 220.35h1v1.6h-1zM152.0 204.85h1v1.6h-1zM162.0 215.70h1v1.6h-1zM169.0 207.95h1v1.6h-1zM169.0 209.50h1v1.6h-1zM176.0 209.50h1v1.6h-1zM106.0 177.95h1v1.6h-1zM115.0 195.00h1v1.6h-1zM123.0 173.30h1v1.6h-1zM123.0 174.85h1v1.6h-1zM134.0 179.50h1v1.6h-1zM143.0 199.65h1v1.6h-1zM144.0 202.75h1v1.6h-1zM146.0 173.30h1v1.6h-1zM150.0 173.30h1v1.6h-1zM150.0 174.85h1v1.6h-1zM158.0 173.30h1v1.6h-1zM158.0 174.85h1v1.6h-1zM158.0 184.15h1v1.6h-1zM158.0 185.70h1v1.6h-1zM170.0 182.60h1v1.6h-1zM176.0 177.95h1v1.6h-1zM177.0 164.00h1v1.6h-1zM192.0 185.70h1v1.6h-1zM192.0 187.25h1v1.6h-1zM192.0 188.80h1v1.6h-1zM193.0 188.80h1v1.6h-1zM196.0 185.70h1v1.6h-1zM196.0 187.25h1v1.6h-1zM199.0 195.00h1v1.6h-1zM206.0 179.50h1v1.6h-1zM206.0 181.05h1v1.6h-1zM139.0 161.10h1v1.6h-1zM139.0 162.65h1v1.6h-1zM230.0 176.20h1v1.6h-1zM256.0 171.55h1v1.6h-1zM259.0 174.65h1v1.6h-1zM259.0 176.20h1v1.6h-1zM259.0 185.50h1v1.6h-1zM231.0 197.75h1v1.6h-1zM297.0 202.70h1v1.6h-1zM422.0 179.55h1v1.6h-1zM497.0 218.55h1v1.6h-1zM497.0 220.10h1v1.6h-1zM497.0 221.65h1v1.6h-1zM497.0 223.20h1v1.6h-1zM515.0 225.75h1v1.6h-1zM527.0 230.30h1v1.6h-1zM529.0 227.20h1v1.6h-1zM532.0 227.20h1v1.6h-1zM533.0 233.40h1v1.6h-1zM535.0 225.65h1v1.6h-1zM545.0 217.00h1v1.6h-1zM545.0 221.65h1v1.6h-1zM579.0 226.30h1v1.6h-1z"/>
<path fill="#507b00" d="M106.0 211.05h1v1.6h-1zM107.0 203.30h1v1.6h-1zM107.0 204.85h1v1.6h-1zM107.0 209.50h1v1.6h-1zM107.0 214.15h1v1.6h-1zM108.0 214.15h1v1.6h-1zM109.0 200.20h1v1.6h-1zM110.0 198.65h1v1.6h-1zM110.0 200.20h1v1.6h-1zM114.0 201.75h1v1.6h-1zM115.0 211.05h1v1.6h-1zM117.0 201.75h1v1.6h-1zM117.0 203.30h1v1.6h-1zM117.0 204.85h1v1.6h-1zM119.0 201.75h1v1.6h-1zM122.0 203.30h1v1.6h-1zM122.0 204.85h1v1.6h-1zM122.0 221.90h1v1.6h-1zM123.0 200.20h1v1.6h-1zM123.0 201.75h1v1.6h-1zM126.0 198.65h1v1.6h-1zM126.0 200.20h1v1.6h-1zM127.0 220.35h1v1.6h-1zM129.0 200.20h1v1.6h-1zM133.0 212.60h1v1.6h-1zM134.0 206.40h1v1.6h-1zM135.0 198.65h1v1.6h-1zM135.0 200.20h1v1.6h-1zM137.0 207.95h1v1.6h-1zM138.0 211.05h1v1.6h-1zM138.0 212.60h1v1.6h-1zM138.0 214.15h1v1.6h-1zM138.0 215.70h1v1.6h-1zM139.0 218.80h1v1.6h-1zM139.0 223.45h1v1.6h-1zM141.0 211.05h1v1.6h-1zM141.0 212.60h1v1.6h-1zM141.0 214.15h1v1.6h-1zM141.0 215.70h1v1.6h-1zM145.0 215.70h1v1.6h-1zM145.0 217.25h1v1.6h-1zM146.0 211.05h1v1.6h-1zM147.0 214.15h1v1.6h-1zM147.0 215.70h1v1.6h-1zM147.0 217.25h1v1.6h-1zM147.0 220.35h1v1.6h-1zM148.0 201.75h1v1.6h-1zM148.0 203.30h1v1.6h-1zM151.0 211.05h1v1.6h-1zM151.0 212.60h1v1.6h-1zM153.0 207.95h1v1.6h-1zM153.0 209.50h1v1.6h-1zM153.0 211.05h1v1.6h-1zM155.0 204.85h1v1.6h-1zM158.0 215.70h1v1.6h-1zM160.0 215.70h1v1.6h-1zM162.0 201.75h1v1.6h-1zM165.0 206.40h1v1.6h-1zM165.0 207.95h1v1.6h-1zM165.0 218.80h1v1.6h-1zM166.0 209.50h1v1.6h-1zM166.0 211.05h1v1.6h-1zM169.0 218.80h1v1.6h-1zM170.0 207.95h1v1.6h-1zM172.0 204.85h1v1.6h-1zM172.0 206.40h1v1.6h-1zM172.0 214.15h1v1.6h-1zM173.0 215.70h1v1.6h-1zM107.0 190.35h1v1.6h-1zM109.0 182.60h1v1.6h-1zM116.0 173.30h1v1.6h-1zM116.0 174.85h1v1.6h-1zM125.0 173.30h1v1.6h-1zM125.0 179.50h1v1.6h-1zM125.0 182.60h1v1.6h-1zM127.0 188.80h1v1.6h-1zM128.0 182.60h1v1.6h-1zM134.0 173.30h1v1.6h-1zM134.0 174.85h1v1.6h-1zM136.0 190.35h1v1.6h-1zM137.0 188.80h1v1.6h-1zM148.0 176.40h1v1.6h-1zM156.0 168.65h1v1.6h-1zM156.0 170.20h1v1.6h-1zM156.0 181.05h1v1.6h-1zM171.0 188.80h1v1.6h-1zM171.0 190.35h1v1.6h-1zM172.0 187.25h1v1.6h-1zM174.0 184.15h1v1.6h-1zM174.0 193.45h1v1.6h-1zM179.0 190.35h1v1.6h-1zM179.0 198.10h1v1.6h-1zM182.0 184.15h1v1.6h-1zM182.0 201.20h1v1.6h-1zM183.0 198.10h1v1.6h-1zM189.0 171.75h1v1.6h-1zM190.0 184.15h1v1.6h-1zM190.0 185.70h1v1.6h-1zM191.0 198.10h1v1.6h-1zM193.0 190.35h1v1.6h-1zM195.0 184.15h1v1.6h-1zM198.0 190.35h1v1.6h-1zM198.0 193.45h1v1.6h-1zM198.0 195.00h1v1.6h-1zM198.0 196.55h1v1.6h-1zM198.0 198.10h1v1.6h-1zM201.0 193.45h1v1.6h-1zM118.0 162.65h1v1.6h-1zM232.0 177.75h1v1.6h-1zM238.0 176.20h1v1.6h-1zM238.0 177.75h1v1.6h-1zM239.0 176.20h1v1.6h-1zM239.0 177.75h1v1.6h-1zM239.0 179.30h1v1.6h-1zM243.0 179.30h1v1.6h-1zM243.0 180.85h1v1.6h-1zM244.0 173.10h1v1.6h-1zM249.0 182.40h1v1.6h-1zM255.0 188.60h1v1.6h-1zM216.0 197.75h1v1.6h-1zM216.0 199.30h1v1.6h-1zM225.0 202.40h1v1.6h-1zM239.0 193.10h1v1.6h-1zM239.0 194.65h1v1.6h-1zM248.0 191.55h1v1.6h-1zM251.0 194.65h1v1.6h-1zM291.0 193.40h1v1.6h-1zM307.0 193.40h1v1.6h-1zM420.0 190.40h1v1.6h-1zM420.0 195.05h1v1.6h-1zM420.0 196.60h1v1.6h-1zM454.0 186.55h1v1.6h-1zM513.0 225.75h1v1.6h-1zM531.0 227.20h1v1.6h-1zM531.0 228.75h1v1.6h-1zM541.0 230.30h1v1.6h-1zM541.0 231.85h1v1.6h-1zM541.0 233.40h1v1.6h-1zM558.0 227.85h1v1.6h-1zM569.0 230.95h1v1.6h-1zM570.0 221.65h1v1.6h-1zM579.0 224.75h1v1.6h-1zM651.0 301.5h1v1.9h-1zM720.0 620.8h1v1.9h-1zM685.0 657.0h3v1.8h-3zM896.5 657.0h2.25v1.8h-2.25z"/>
<path fill="#009611" d="M106.0 221.90h1v1.6h-1zM106.0 223.45h1v1.6h-1zM108.0 221.90h1v1.6h-1zM166.0 206.40h1v1.6h-1zM125.0 177.95h1v1.6h-1zM169.0 177.95h1v1.6h-1zM240.0 176.20h1v1.6h-1zM423.0 178.00h1v1.6h-1zM790.0 657.0h1.5v1.8h-1.5z"/>
<path fill="#378300" d="M106.0 225.00h1v1.6h-1zM108.0 212.60h1v1.6h-1zM110.0 218.80h1v1.6h-1zM110.0 220.35h1v1.6h-1zM114.0 203.30h1v1.6h-1zM114.0 204.85h1v1.6h-1zM114.0 206.40h1v1.6h-1zM115.0 206.40h1v1.6h-1zM115.0 207.95h1v1.6h-1zM116.0 220.35h1v1.6h-1zM117.0 200.20h1v1.6h-1zM118.0 203.30h1v1.6h-1zM118.0 221.90h1v1.6h-1zM119.0 197.10h1v1.6h-1zM123.0 206.40h1v1.6h-1zM129.0 215.70h1v1.6h-1zM136.0 207.95h1v1.6h-1zM136.0 209.50h1v1.6h-1zM136.0 211.05h1v1.6h-1zM136.0 212.60h1v1.6h-1zM136.0 214.15h1v1.6h-1zM140.0 217.25h1v1.6h-1zM146.0 204.85h1v1.6h-1zM152.0 203.30h1v1.6h-1zM158.0 220.35h1v1.6h-1zM171.0 217.25h1v1.6h-1zM176.0 204.85h1v1.6h-1zM117.0 185.70h1v1.6h-1zM121.0 179.50h1v1.6h-1zM135.0 185.70h1v1.6h-1zM142.0 195.00h1v1.6h-1zM151.0 168.65h1v1.6h-1zM170.0 170.20h1v1.6h-1zM177.0 195.00h1v1.6h-1zM183.0 187.25h1v1.6h-1zM183.0 188.80h1v1.6h-1zM183.0 190.35h1v1.6h-1zM184.0 177.95h1v1.6h-1zM184.0 179.50h1v1.6h-1zM195.0 187.25h1v1.6h-1zM195.0 188.80h1v1.6h-1zM195.0 195.00h1v1.6h-1zM196.0 190.35h1v1.6h-1zM203.0 195.00h1v1.6h-1zM203.0 196.55h1v1.6h-1zM204.0 187.25h1v1.6h-1zM207.0 187.25h1v1.6h-1zM226.0 182.40h1v1.6h-1zM241.0 185.50h1v1.6h-1zM241.0 187.05h1v1.6h-1zM241.0 188.60h1v1.6h-1zM300.0 187.20h1v1.6h-1zM417.0 198.15h1v1.6h-1zM453.0 186.55h1v1.6h-1zM453.0 188.10h1v1.6h-1zM453.0 189.65h1v1.6h-1zM496.0 224.75h1v1.6h-1zM515.0 221.10h1v1.6h-1zM515.0 222.65h1v1.6h-1zM527.0 227.20h1v1.6h-1zM530.0 225.65h1v1.6h-1zM530.0 227.20h1v1.6h-1zM533.0 225.65h1v1.6h-1zM533.0 227.20h1v1.6h-1zM796.8 657.0h1.5v1.8h-1.5z"/>
<path fill="#009625" d="M108.0 201.75h1v1.6h-1zM108.0 203.30h1v1.6h-1zM120.0 203.30h1v1.6h-1zM120.0 204.85h1v1.6h-1zM120.0 206.40h1v1.6h-1zM120.0 220.35h1v1.6h-1z"/>
<path fill="#059400" d="M116.0 200.20h1v1.6h-1zM162.0 212.60h1v1.6h-1zM167.0 217.25h1v1.6h-1zM168.0 215.70h1v1.6h-1zM120.0 195.00h1v1.6h-1zM120.0 196.55h1v1.6h-1zM120.0 198.10h1v1.6h-1zM171.0 187.25h1v1.6h-1zM187.0 188.80h1v1.6h-1zM200.0 179.50h1v1.6h-1zM804.2 657.0h1.5v1.8h-1.5z"/>
<path fill="#bb1800" d="M116.0 201.75h1v1.6h-1zM116.0 203.30h1v1.6h-1zM128.0 199.65h1v1.6h-1zM128.0 201.20h1v1.6h-1zM155.0 201.20h1v1.6h-1zM155.0 202.75h1v1.6h-1zM174.0 195.00h1v1.6h-1zM180.0 188.80h1v1.6h-1zM181.0 195.00h1v1.6h-1zM194.0 187.25h1v1.6h-1zM194.0 188.80h1v1.6h-1zM120.0 161.10h1v1.6h-1zM120.0 162.65h1v1.6h-1zM537.0 224.10h1v1.6h-1zM560.0 217.00h1v1.6h-1zM566.0 220.10h1v1.6h-1zM227.2 121.7h1v1.9h-1zM822.8 643.5h3v1.6h-3zM879.2 658.8h2.25v2.3h-2.25z"/>
<path fill="#1e8c00" d="M123.0 207.95h1v1.6h-1zM126.0 218.80h1v1.6h-1zM132.0 201.75h1v1.6h-1zM132.0 203.30h1v1.6h-1zM132.0 204.85h1v1.6h-1zM132.0 206.40h1v1.6h-1zM133.0 211.05h1v1.6h-1zM135.0 201.75h1v1.6h-1zM135.0 203.30h1v1.6h-1zM144.0 207.95h1v1.6h-1zM144.0 209.50h1v1.6h-1zM144.0 211.05h1v1.6h-1zM161.0 204.85h1v1.6h-1zM164.0 209.50h1v1.6h-1zM167.0 206.40h1v1.6h-1zM110.0 196.55h1v1.6h-1zM126.0 187.25h1v1.6h-1zM193.0 176.40h1v1.6h-1zM237.0 174.65h1v1.6h-1zM557.0 229.40h1v1.6h-1zM583 657.0H913.5V658.8H583zM700.8 657.0h3v1.8h-3zM801.2 657.0h3v1.8h-3zM849.2 657.0h1.5v1.8h-1.5zM861.2 657.0h2.25v1.8h-2.25z"/>
<path fill="#009608" d="M131.0 212.60h1v1.6h-1zM131.0 214.15h1v1.6h-1zM159.0 220.35h1v1.6h-1zM132.0 181.05h1v1.6h-1zM249.0 202.40h1v1.6h-1zM868.8 657.0h1.5v1.8h-1.5z"/>
<path fill="#00962e" d="M138.0 207.95h1v1.6h-1zM138.0 209.50h1v1.6h-1zM171.0 215.70h1v1.6h-1z"/>
<path fill="#009641" d="M516.0 225.75h1v1.6h-1z"/>
<path fill="#009627" d="M314.2 501.4h1v1.9h-1z"/>
<path fill="#627500" d="M742.5 658.0h1v1.9h-1zM396.0 216.2h1v1.9h-1zM885.0 323.2h1v1.9h-1zM241.5 447.0h1.5v1.6h-1.5zM859.8 657.0h1.5v1.8h-1.5z"/>
<path fill="#517b00" d="M483.8 414.6h1v1.9h-1zM306.8 577.4h1v1.9h-1zM705.0 253.4h1v1.9h-1zM726.0 618.0h1v1.6h-1zM911.2 619.5h1v1.6h-1z"/>
<path fill="#00960c" d="M583.5 617.6h1v1.9h-1zM564.8 380.5h1v1.9h-1zM611.5 657.0h2.25v1.8h-2.25zM616.0 657.0h3v1.8h-3zM742.8 657.0h1.5v1.8h-1.5zM889.0 657.0h2.25v1.8h-2.25z"/>
<path fill="#3d8100" d="M491.2 329.4h1v1.9h-1zM699.8 115.5h1v1.9h-1zM628.5 589.8h1v1.9h-1zM694.5 651.0h1.5v1.6h-1.5zM628.5 668.5h3v1.6h-3z"/>
<path fill="#7d6c00" d="M129.0 255.0h1v1.9h-1zM600.8 258.1h1v1.9h-1zM794.2 375.9h1v1.9h-1zM344.2 515.4h1v1.9h-1zM717.0 662.6h1v1.9h-1zM625.8 657.0h3v1.8h-3zM827.5 657.0h3v1.8h-3z"/>
<path fill="#866400" d="M460.5 126.3h1v1.9h-1z"/>
<path fill="#974c00" d="M321.8 597.5h1v1.9h-1zM441.8 558.8h1v1.9h-1zM431.2 375.9h1v1.9h-1zM152.2 236.3h1v1.9h-1zM868.8 658.8h1.5v2.3h-1.5z"/>
<path fill="#766e00" d="M579.8 354.2h1v1.9h-1zM753.0 378.9h1v1.9h-1zM713.5 657.0h1.5v1.8h-1.5zM722.5 657.0h1.5v1.8h-1.5z"/>
<path fill="#3e8100" d="M149.2 237.9h1v1.9h-1zM818.2 667.0h1v1.6h-1z"/>
<path fill="#786d00" d="M565.5 96.8h1v1.9h-1zM662.2 619.5h2v1.6h-2zM696.8 668.5h1v1.6h-1z"/>
<path fill="#994900" d="M600.0 430.1h1v1.9h-1zM903.0 219.3h1v1.9h-1zM732.0 532.4h1v1.9h-1z"/>
<path fill="#b71f00" d="M858.8 600.6h1v1.9h-1z"/>
<path fill="#856500" d="M603.0 374.3h1v1.9h-1zM360.0 264.2h1v1.9h-1zM222.8 369.7h1v1.9h-1zM450.0 411.5h1v1.9h-1zM885.0 98.4h1v1.9h-1z"/>
<path fill="#398300" d="M675.8 284.4h1v1.9h-1zM710.2 651.0h1v1.6h-1zM667.8 657.0h1.5v1.8h-1.5z"/>
<path fill="#348400" d="M553.5 504.5h1v1.9h-1zM908.2 129.4h1v1.9h-1zM481.5 454.9h1v1.9h-1zM809.5 657.0h1.5v1.8h-1.5z"/>
<path fill="#567900" d="M415.5 270.5h1v1.9h-1zM729.8 501.4h1v1.9h-1zM425.2 95.3h1v1.9h-1zM381.0 64.3h1v1.9h-1zM706.0 657.0h3v1.8h-3z"/>
<path fill="#477e00" d="M634.5 329.4h1v1.9h-1zM730.5 665.5h2v1.6h-2z"/>
<path fill="#945000" d="M340.5 439.4h1v1.9h-1zM587.2 575.8h1v1.9h-1zM780.0 465.8h1v1.9h-1zM874.5 649.5h1.5v1.6h-1.5zM614.2 665.5h1v1.6h-1zM758.2 650.2h1v1.9h-1z"/>
<path fill="#547a00" d="M813.8 175.9h1v1.9h-1zM228.0 196.1h1v1.9h-1zM414.8 420.8h1v1.9h-1zM417.8 431.7h1v1.6h-1z"/>
<path fill="#408000" d="M619.5 462.7h1v1.9h-1zM867.0 653.3h1v1.9h-1z"/>
<path fill="#4f7b00" d="M428.2 62.8h1v1.9h-1zM660.0 667.0h1v1.6h-1zM652.0 657.0h1.5v1.8h-1.5zM826.0 657.0h1.5v1.8h-1.5z"/>
<path fill="#ab2f00" d="M613.5 623.9h1v1.9h-1zM630.8 618.0h1v1.6h-1z"/>
<path fill="#3c8200" d="M636.0 456.4h1v1.9h-1zM907.5 509.2h1v1.9h-1zM874.8 657.0h2.25v1.8h-2.25z"/>
<path fill="#c01100" d="M210.8 597.5h1v1.9h-1zM199.5 358.8h1v1.9h-1zM876.0 667.0h1v1.6h-1zM735.2 658.8h3v2.3h-3zM844.8 658.8h1.5v2.3h-1.5z"/>
<path fill="#687300" d="M500.2 334.0h1v1.9h-1zM162.0 118.6h1v1.9h-1zM266.2 171.2h1v1.9h-1z"/>
<path fill="#8a5f00" d="M157.5 419.2h1v1.9h-1zM674.2 492.1h1v1.9h-1zM787.5 651.0h1.5v1.6h-1.5zM861.0 645.6h1v1.9h-1z"/>
<path fill="#a33b00" d="M910.5 380.5h1v1.9h-1zM577.5 433.2h1v1.9h-1zM321.0 428.6h2v1.6h-2z"/>
<path fill="#8a5e00" d="M342.0 279.8h1v1.9h-1zM300.0 180.6h1v1.9h-1zM644.2 619.5h1v1.6h-1zM639.0 651.0h1.5v1.6h-1.5zM717.0 652.5h2v1.6h-2z"/>
<path fill="#a43900" d="M214.5 653.3h1v1.9h-1zM375.0 248.8h1v1.9h-1zM690.0 668.5h2v1.6h-2zM762.8 665.5h1v1.6h-1z"/>
<path fill="#ce0900" d="M698.2 276.6h1v1.9h-1zM522.8 654.9h1v1.9h-1zM710.2 665.5h2v1.6h-2z"/>
<path fill="#cc0000" d="M823.5 113.9h1v1.9h-1zM190.5 442.5h1v1.9h-1zM624.8 619.5h1v1.6h-1zM703.5 625.4h1v1.9h-1zM617.5 658.8h1.5v2.3h-1.5z"/>
<path fill="#b12600" d="M806.2 392.9h1v1.9h-1zM447.0 165.1h1v1.9h-1z"/>
<path fill="#816a00" d="M456.8 61.2h1v1.9h-1zM241.5 563.4h1v1.9h-1zM777.8 603.7h1v1.9h-1zM784.5 630.1h1v1.9h-1z"/>
<path fill="#9b4600" d="M570.8 202.2h1v1.9h-1zM864.8 569.6h1v1.9h-1z"/>
<path fill="#657400" d="M817.5 259.6h1v1.9h-1zM348.0 318.5h1v1.9h-1zM704.2 619.5h1.5v1.6h-1.5z"/>
<path fill="#b61f00" d="M756.0 493.7h1v1.9h-1zM366.8 492.1h1v1.9h-1zM772.5 454.9h1v1.9h-1z"/>
<path fill="#756e00" d="M295.5 118.6h1v1.9h-1zM889.5 179.0h1v1.9h-1zM306.0 101.5h1v1.9h-1z"/>
<path fill="#a83400" d="M769.5 59.6h1v1.9h-1zM510.8 366.6h1v1.9h-1zM669.0 388.2h1v1.9h-1zM849.0 434.8h1v1.9h-1zM468.8 141.8h1v1.9h-1zM599.2 667.0h3v1.6h-3zM849.2 658.8h3v2.3h-3z"/>
<path fill="#ba1900" d="M273.0 510.7h1v1.9h-1z"/>
<path fill="#7c6c00" d="M242.2 594.4h1v1.9h-1zM906.8 95.3h1v1.9h-1zM471.0 489.0h1v1.9h-1zM225.8 453.4h2v1.6h-2zM673.5 619.5h2v1.6h-2zM828.8 619.5h3v1.6h-3zM832.5 648.6h1v1.9h-1zM590.5 657.0h1.5v1.8h-1.5z"/>
<path fill="#964d00" d="M227.2 180.6h1v1.9h-1zM822.8 354.2h1v1.9h-1zM792.0 621.0h2v1.6h-2z"/>
<path fill="#ac2d00" d="M212.2 248.8h1v1.9h-1z"/>
<path fill="#7b6c00" d="M423.8 516.9h1v1.9h-1zM746.2 287.5h1v1.9h-1zM826.5 667.0h1v1.6h-1zM623.2 665.5h3v1.6h-3zM650.2 643.5h3v1.6h-3z"/>
<path fill="#597800" d="M246.8 168.2h1v1.9h-1zM480.8 650.2h1v1.9h-1zM819.8 651.0h2v1.6h-2zM769.0 657.0h1.5v1.8h-1.5z"/>
<path fill="#2d8700" d="M705.0 654.9h1v1.9h-1zM798.2 657.0h3v1.8h-3z"/>
<path fill="#ac2e00" d="M478.5 180.6h1v1.9h-1zM696.8 661.1h1v1.9h-1zM614.5 658.8h1.5v2.3h-1.5z"/>
<path fill="#cc0100" d="M179.2 292.1h1v1.9h-1zM525.0 326.2h1v1.9h-1zM666.0 327.8h1v1.9h-1zM597.0 544.8h1v1.9h-1zM116.2 459.6h1v1.6h-1zM876.0 649.5h2v1.6h-2zM619.0 658.8h3v2.3h-3zM633.2 658.8h1.5v2.3h-1.5zM658.8 658.8h2.25v2.3h-2.25zM673.8 658.8h2.25v2.3h-2.25zM829.0 658.8h2.25v2.3h-2.25z"/>
<path fill="#bd1600" d="M698.2 76.7h1v1.9h-1zM657.2 658.8h1.5v2.3h-1.5z"/>
<path fill="#717000" d="M631.5 174.4h1v1.9h-1zM906.8 405.3h1v1.9h-1zM126.8 478.2h1v1.9h-1zM277.5 431.0h1.5v1.6h-1.5z"/>
<path fill="#8c5b00" d="M270.0 572.7h1v1.9h-1zM282.8 523.1h1v1.9h-1zM838.5 606.5h1.5v1.6h-1.5z"/>
<path fill="#846700" d="M765.0 179.0h1v1.9h-1zM486.0 188.3h1v1.9h-1zM663.0 89.1h1v1.9h-1zM886.5 618.0h3v1.6h-3zM886.5 664.1h1v1.9h-1z"/>
<path fill="#c60800" d="M168.0 420.8h1v1.9h-1zM689.5 658.8h1.5v2.3h-1.5z"/>
<path fill="#b22600" d="M786.8 231.7h1v1.9h-1zM411.0 157.3h1v1.9h-1z"/>
<path fill="#746f00" d="M673.5 130.9h1v1.9h-1zM208.5 411.5h1v1.9h-1zM255.8 428.6h1v1.9h-1zM473.2 605.2h1v1.9h-1zM723.8 447.2h1v1.9h-1zM603.0 621.0h2v1.6h-2zM600.0 649.5h3v1.6h-3zM873.2 657.0h1.5v1.8h-1.5z"/>
<path fill="#9e4200" d="M347.2 613.0h1v1.9h-1zM872.2 555.7h1v1.9h-1zM286.5 543.2h1v1.9h-1zM247.5 447.0h1.5v1.6h-1.5zM869.2 667.0h1v1.6h-1z"/>
<path fill="#208b00" d="M834.8 499.9h1v1.9h-1zM390.8 547.9h1v1.9h-1z"/>
<path fill="#806b00" d="M374.2 343.3h1v1.9h-1zM520.5 144.9h1v1.9h-1z"/>
<path fill="#049500" d="M547.5 313.9h1v1.9h-1zM715.0 657.0h1.5v1.8h-1.5zM733.0 657.0h1.5v1.8h-1.5z"/>
<path fill="#a13e00" d="M903.0 506.1h1v1.9h-1zM228.8 572.7h1v1.9h-1zM144.8 444.1h1v1.9h-1zM844.5 651.0h1v1.6h-1zM750.0 667.0h1v1.6h-1z"/>
<path fill="#9f4000" d="M798.0 242.6h1v1.9h-1zM811.5 665.5h1v1.6h-1zM848.2 667.2h1v1.9h-1zM676.0 658.8h1.5v2.3h-1.5z"/>
<path fill="#935200" d="M509.2 524.7h1v1.9h-1zM241.5 575.8h1v1.9h-1zM552.0 171.2h1v1.9h-1z"/>
<path fill="#8c5c00" d="M697.5 616.1h1v1.9h-1zM625.5 172.8h1v1.9h-1zM114.8 431.7h3v1.6h-3z"/>
<path fill="#4c7c00" d="M150.8 351.1h1v1.9h-1zM225.8 526.2h1v1.9h-1zM582.8 230.2h1v1.9h-1z"/>
<path fill="#b02900" d="M372.0 588.2h1v1.9h-1zM437.2 422.4h1v1.9h-1zM862.5 651.0h1.5v1.6h-1.5z"/>
<path fill="#637500" d="M566.2 659.5h1v1.9h-1zM136.5 154.2h1v1.9h-1z"/>
<path fill="#cf0e00" d="M806.2 163.5h1v1.9h-1zM655.0 658.8h2.25v2.3h-2.25zM720.2 658.8h3v2.3h-3zM770.5 658.8h1.5v2.3h-1.5z"/>
<path fill="#0a9300" d="M262.5 394.4h1v1.9h-1zM647.5 657.0h2.25v1.8h-2.25zM767.5 657.0h1.5v1.8h-1.5z"/>
<path fill="#9d4300" d="M497.2 261.1h1v1.9h-1zM327.8 141.8h1v1.9h-1zM652.0 658.8h3v2.3h-3z"/>
<path fill="#6e7100" d="M873.0 360.4h1v1.9h-1zM747.0 621.0h1.5v1.6h-1.5zM900.0 619.5h2v1.6h-2zM716.2 649.5h1.5v1.6h-1.5zM591.8 599.1h1v1.9h-1z"/>
<path fill="#925300" d="M665.2 444.1h1v1.9h-1zM151.5 199.2h1v1.9h-1zM346.5 440.9h3v1.6h-3zM773.2 619.5h1.5v1.6h-1.5zM664.5 619.5h1v1.6h-1zM852.2 658.8h1.5v2.3h-1.5z"/>
<path fill="#009613" d="M543.0 299.9h1v1.9h-1zM700.5 96.8h1v1.9h-1zM314.2 431.0h1.5v1.6h-1.5zM820.5 582.0h1v1.9h-1zM885.2 657.0h1.5v1.8h-1.5z"/>
<path fill="#1a8d00" d="M189.8 287.5h1v1.9h-1zM403.5 630.1h1v1.9h-1zM764.5 657.0h1.5v1.8h-1.5z"/>
<path fill="#cd0600" d="M204.8 484.4h1v1.9h-1zM846.8 534.0h1v1.9h-1zM261.0 230.2h1v1.9h-1zM681.0 667.0h2v1.6h-2zM636.2 658.8h2.25v2.3h-2.25zM644.5 658.8h3v2.3h-3z"/>
<path fill="#8d5a00" d="M158.2 568.1h1v1.9h-1zM152.2 448.5h3v1.6h-3zM825.0 621.0h3v1.6h-3zM781.5 619.5h1v1.6h-1zM834.2 658.8h1.5v2.3h-1.5z"/>
<path fill="#5f7600" d="M261.0 378.9h1v1.9h-1zM297.8 464.2h1v1.9h-1z"/>
<path fill="#00960b" d="M811.5 149.6h1v1.9h-1zM414.0 445.6h2v1.6h-2zM239.2 459.6h3v1.6h-3zM610.5 651.0h2v1.6h-2zM886.8 657.0h2.25v1.8h-2.25z"/>
<path fill="#9c4500" d="M682.5 318.5h1v1.9h-1zM301.5 606.8h1v1.9h-1zM547.5 479.7h1v1.9h-1zM615.8 667.0h3v1.6h-3zM667.5 631.6h1v1.9h-1zM686.5 658.8h3v2.3h-3z"/>
<path fill="#ad2c00" d="M861.8 67.4h1v1.9h-1zM159.0 84.5h1v1.9h-1zM831.8 444.1h1v1.9h-1zM665.5 658.8h1.5v2.3h-1.5z"/>
<path fill="#be1400" d="M232.5 617.6h1v1.9h-1zM236.2 231.7h1v1.9h-1z"/>
<path fill="#cc0200" d="M148.5 459.6h1v1.9h-1zM387.0 433.2h3v1.6h-3zM316.5 442.5h3v1.6h-3zM638.5 658.8h1.5v2.3h-1.5zM685.0 658.8h1.5v2.3h-1.5zM767.5 658.8h1.5v2.3h-1.5zM892.8 658.8h2.25v2.3h-2.25z"/>
<path fill="#a04000" d="M536.2 420.8h1v1.9h-1zM624.2 658.8h3v2.3h-3z"/>
<path fill="#c70700" d="M758.2 210.0h1v1.9h-1zM661.0 658.8h3v2.3h-3zM831.2 658.8h3v2.3h-3z"/>
<path fill="#ce0800" d="M814.5 399.1h1v1.9h-1zM728.5 658.8h2.25v2.3h-2.25z"/>
<path fill="#7e6b00" d="M709.5 498.3h1v1.9h-1zM627.8 577.4h1v1.9h-1zM591.8 649.5h1.5v1.6h-1.5z"/>
<path fill="#915500" d="M699.0 566.5h1v1.9h-1zM110.2 106.2h1v1.9h-1zM143.2 447.0h1v1.6h-1zM718.5 580.5h1v1.9h-1z"/>
<path fill="#6a7200" d="M548.2 380.5h1v1.9h-1zM237.0 659.5h1v1.9h-1zM242.2 309.2h1v1.9h-1zM310.5 242.6h1v1.9h-1zM838.5 613.0h1v1.9h-1z"/>
<path fill="#158f00" d="M180.0 199.2h1v1.9h-1z"/>
<path fill="#0c9200" d="M710.2 549.5h1v1.9h-1zM873.0 667.0h1v1.6h-1zM634.8 657.0h3v1.8h-3zM761.5 657.0h1.5v1.8h-1.5z"/>
<path fill="#178e00" d="M449.2 194.5h1v1.9h-1z"/>
<path fill="#2c8700" d="M488.2 241.0h1v1.9h-1zM689.5 657.0h1.5v1.8h-1.5zM728.5 657.0h1.5v1.8h-1.5zM807.2 657.0h2.25v1.8h-2.25z"/>
<path fill="#009603" d="M584.2 69.0h1v1.9h-1zM622.8 657.0h1.5v1.8h-1.5zM793.0 657.0h2.25v1.8h-2.25z"/>
<path fill="#af2900" d="M621.0 664.1h1v1.9h-1zM694.5 423.9h1v1.9h-1zM634.8 658.8h1.5v2.3h-1.5zM744.2 658.8h2.25v2.3h-2.25z"/>
<path fill="#816b00" d="M342.8 462.7h1v1.9h-1z"/>
<path fill="#667300" d="M309.8 451.8h1v1.9h-1zM848.2 651.0h1v1.6h-1zM885.0 585.1h1v1.9h-1zM760.0 657.0h1.5v1.8h-1.5z"/>
<path fill="#637400" d="M678.8 101.5h1v1.9h-1zM555.8 482.8h1v1.9h-1z"/>
<path fill="#ce0a00" d="M150.8 599.1h1v1.9h-1zM730.5 606.8h1v1.9h-1zM733.8 658.8h1.5v2.3h-1.5zM835.8 658.8h3v2.3h-3z"/>
<path fill="#148f00" d="M268.5 385.2h1v1.9h-1zM273.0 196.1h1v1.9h-1zM613.8 657.0h2.25v1.8h-2.25zM673.8 657.0h3v1.8h-3zM847.8 657.0h1.5v1.8h-1.5z"/>
<path fill="#a93300" d="M171.8 383.6h1v1.9h-1zM439.5 510.7h1v1.9h-1z"/>
<path fill="#aa3000" d="M765.8 467.3h1v1.9h-1z"/>
<path fill="#cd0300" d="M483.0 152.7h1v1.9h-1zM756.2 658.8h1.5v2.3h-1.5z"/>
<path fill="#4b7d00" d="M499.5 87.6h1v1.9h-1zM687.8 64.3h1v1.9h-1z"/>
<path fill="#1b8d00" d="M630.0 372.8h1v1.9h-1zM664.0 657.0h1.5v1.8h-1.5zM672.2 657.0h1.5v1.8h-1.5z"/>
<path fill="#a23c00" d="M511.5 155.8h1v1.9h-1zM712.5 649.5h1v1.6h-1zM865.0 657.0h2.25v1.8h-2.25z"/>
<path fill="#557900" d="M321.8 397.6h1v1.9h-1zM234.0 177.4h1v1.9h-1zM808.5 92.2h1v1.9h-1zM144.0 447.0h1.5v1.6h-1.5zM814.5 619.5h1.5v1.6h-1.5zM816.8 651.0h1v1.6h-1zM715.5 651.0h1v1.6h-1zM657.2 657.0h1.5v1.8h-1.5z"/>
<path fill="#308600" d="M707.2 275.1h1v1.9h-1zM772.0 657.0h2.25v1.8h-2.25z"/>
<path fill="#856600" d="M723.8 413.1h1v1.9h-1zM199.5 465.8h1v1.9h-1zM843.0 341.8h1v1.9h-1zM642.0 363.4h1v1.9h-1zM834.8 652.5h1v1.6h-1z"/>
<path fill="#9b4700" d="M610.5 574.2h1v1.9h-1z"/>
<path fill="#328500" d="M303.8 237.9h1v1.9h-1zM351.0 100.0h1v1.9h-1zM423.8 658.0h1v1.9h-1zM891.0 652.5h3v1.6h-3zM883.0 657.0h2.25v1.8h-2.25z"/>
<path fill="#2e8700" d="M800.2 224.0h1v1.9h-1zM187.5 644.0h1v1.9h-1zM842.2 651.0h2v1.6h-2z"/>
<path fill="#8b5e00" d="M120.0 124.8h1v1.9h-1z"/>
<path fill="#896000" d="M267.0 543.2h1v1.9h-1zM724.8 658.8h1.5v2.3h-1.5z"/>
<path fill="#0b9200" d="M240.0 544.8h1v1.9h-1zM632.2 506.1h1v1.9h-1zM614.2 651.0h1v1.6h-1zM637.8 657.0h1.5v1.8h-1.5zM724.0 657.0h1.5v1.8h-1.5z"/>
<path fill="#cf0d00" d="M726.0 493.7h1v1.9h-1zM300.0 437.9h2v1.6h-2zM672.2 658.8h1.5v2.3h-1.5z"/>
<path fill="#9f4100" d="M342.0 340.2h1v1.9h-1zM780.8 586.0h3v1.6h-3zM832.5 662.6h1v1.9h-1z"/>
<path fill="#707000" d="M528.8 396.0h1v1.9h-1zM624.8 619.5h1v1.6h-1z"/>
<path fill="#964e00" d="M185.2 363.4h1v1.9h-1zM819.8 608.0h3v1.6h-3zM679.0 658.8h1.5v2.3h-1.5z"/>
<path fill="#ae2b00" d="M685.5 516.9h1v1.9h-1zM867.8 526.2h1v1.9h-1zM781.0 658.8h3v2.3h-3zM791.5 658.8h2.25v2.3h-2.25z"/>
<path fill="#6b7200" d="M219.0 470.4h1v1.9h-1zM870.0 473.5h1v1.9h-1zM726.0 619.5h3v1.6h-3z"/>
<path fill="#607500" d="M153.0 65.8h1v1.9h-1z"/>
<path fill="#8b5d00" d="M122.2 502.9h1v1.9h-1zM544.5 617.6h1v1.9h-1zM789.0 65.8h1v1.9h-1zM758.2 502.9h1v1.9h-1zM895.5 651.0h1.5v1.6h-1.5z"/>
<path fill="#a03f00" d="M434.2 253.4h1v1.9h-1zM137.2 307.6h1v1.9h-1zM234.8 211.6h1v1.9h-1zM232.5 432.5h1v1.6h-1zM749.5 658.8h1.5v2.3h-1.5zM804.2 658.8h1.5v2.3h-1.5z"/>
<path fill="#984a00" d="M222.0 456.4h1v1.9h-1zM146.2 236.3h1v1.9h-1zM838.5 651.8h1v1.9h-1zM819.2 658.8h3v2.3h-3zM856.8 658.8h1.5v2.3h-1.5z"/>
<path fill="#b91b00" d="M469.5 461.1h1v1.9h-1zM873.2 658.8h3v2.3h-3z"/>
<path fill="#248a00" d="M657.0 413.1h1v1.9h-1z"/>
<path fill="#b81d00" d="M156.8 389.8h1v1.9h-1zM766.0 658.8h1.5v2.3h-1.5z"/>
<path fill="#b22500" d="M412.5 93.8h1v1.9h-1zM695.2 609.9h1v1.9h-1zM641.5 658.8h3v2.3h-3z"/>
<path fill="#836800" d="M219.0 149.6h1v1.9h-1zM260.2 397.6h1v1.9h-1zM461.2 478.2h1v1.9h-1zM853.5 619.5h1.5v1.6h-1.5zM720.0 665.5h3v1.6h-3zM689.2 645.0h1v1.6h-1zM762.8 586.6h1v1.9h-1z"/>
<path fill="#a73500" d="M118.5 613.0h1v1.9h-1zM742.8 658.8h1.5v2.3h-1.5z"/>
<path fill="#4a7d00" d="M321.0 499.9h1v1.9h-1zM683.2 651.0h1.5v1.6h-1.5zM611.2 668.5h1.5v1.6h-1.5z"/>
<path fill="#896100" d="M572.2 340.2h1v1.9h-1z"/>
<path fill="#ba1a00" d="M431.2 361.9h1v1.9h-1zM546.0 603.7h1v1.9h-1zM817.5 619.5h1.5v1.6h-1.5zM587.5 658.8h1.5v2.3h-1.5z"/>
<path fill="#6f7100" d="M501.8 89.1h1v1.9h-1z"/>
<path fill="#954e00" d="M858.8 239.5h1v1.9h-1zM888.8 667.0h1v1.6h-1zM795.0 584.5h1.5v1.6h-1.5z"/>
<path fill="#0d9100" d="M603.8 450.2h1v1.9h-1z"/>
<path fill="#8f5800" d="M611.2 473.5h1v1.9h-1z"/>
<path fill="#527a00" d="M891.0 408.4h1v1.9h-1zM771.8 637.8h1v1.9h-1zM873.8 619.5h2v1.6h-2z"/>
<path fill="#b62000" d="M892.5 340.2h1v1.9h-1zM842.2 621.0h1v1.6h-1z"/>
<path fill="#5e7600" d="M645.0 239.5h1v1.9h-1zM516.0 577.4h1v1.9h-1zM874.5 621.0h1.5v1.6h-1.5zM641.5 657.0h1.5v1.8h-1.5z"/>
<path fill="#ca0200" d="M498.0 586.6h1v1.9h-1z"/>
<path fill="#cd0500" d="M210.0 303.0h1v1.9h-1zM601.0 658.8h3v2.3h-3zM664.0 658.8h1.5v2.3h-1.5zM667.0 658.8h2.25v2.3h-2.25zM708.2 658.8h1.5v2.3h-1.5zM723.2 658.8h1.5v2.3h-1.5zM762.2 658.8h2.25v2.3h-2.25zM910.8 658.8h2.25v2.3h-2.25z"/>
<path fill="#9c4400" d="M216.8 617.6h1v1.9h-1z"/>
<path fill="#009600" d="M645.0 121.7h1v1.9h-1zM584.5 657.0h2.25v1.8h-2.25zM619.0 657.0h1.5v1.8h-1.5zM835.0 657.0h2.25v1.8h-2.25zM840.2 657.0h1.5v1.8h-1.5z"/>
<path fill="#9a4800" d="M287.2 471.9h1v1.9h-1z"/>
<path fill="#c11000" d="M213.0 284.4h1v1.9h-1z"/>
<path fill="#cd0400" d="M606.0 518.5h1v1.9h-1zM843.2 658.8h1.5v2.3h-1.5zM876.2 658.8h1.5v2.3h-1.5z"/>
<path fill="#4e7c00" d="M594.8 394.4h1v1.9h-1z"/>
<path fill="#258900" d="M810.0 473.5h1v1.9h-1zM829.5 652.5h1v1.6h-1zM643.0 657.0h2.25v1.8h-2.25z"/>
<path fill="#009606" d="M310.5 408.4h1v1.9h-1zM792.0 651.0h2v1.6h-2zM621.0 627.0h1v1.9h-1z"/>
<path fill="#866500" d="M764.2 180.6h1v1.9h-1zM408.8 158.9h1v1.9h-1z"/>
<path fill="#428000" d="M601.5 239.5h1v1.9h-1zM740.2 619.5h1v1.6h-1z"/>
<path fill="#a73600" d="M147.8 352.6h1v1.9h-1z"/>
<path fill="#8f5700" d="M786.0 650.2h1v1.9h-1zM569.2 244.1h1v1.9h-1zM622.5 619.5h3v1.6h-3zM607.5 651.0h1v1.6h-1zM804.0 609.5h1.5v1.6h-1.5zM681.8 611.5h1v1.9h-1z"/>
<path fill="#587800" d="M265.5 157.3h1v1.9h-1zM277.5 75.2h1v1.9h-1zM865.5 651.0h3v1.6h-3z"/>
<path fill="#a93200" d="M220.5 549.5h1v1.9h-1zM893.2 667.0h1v1.6h-1zM583.0 658.8h3v2.3h-3z"/>
<path fill="#7a6d00" d="M232.5 386.7h1v1.9h-1zM669.8 496.8h1v1.9h-1zM336.8 440.9h1v1.6h-1zM772.0 658.8h2.25v2.3h-2.25z"/>
<path fill="#ce0b00" d="M830.2 239.5h1v1.9h-1zM779.5 658.8h1.5v2.3h-1.5z"/>
<path fill="#876300" d="M313.5 485.9h1v1.9h-1zM510.0 552.5h1v1.9h-1zM462.8 565.0h1v1.9h-1z"/>
<path fill="#886100" d="M844.5 440.9h1v1.9h-1zM252.0 428.6h3v1.6h-3zM255.8 447.0h1v1.6h-1zM625.5 619.5h1.5v1.6h-1.5zM681.0 621.0h1v1.6h-1zM755.2 665.7h1v1.9h-1zM682.0 657.0h1.5v1.8h-1.5z"/>
<path fill="#228b00" d="M223.5 211.6h1v1.9h-1zM832.0 657.0h3v1.8h-3z"/>
<path fill="#278900" d="M574.5 516.9h1v1.9h-1z"/>
<path fill="#776e00" d="M855.8 61.2h1v1.9h-1zM118.5 501.4h1v1.9h-1zM897.0 667.0h3v1.6h-3zM910.5 667.0h1v1.6h-1z"/>
<path fill="#a53800" d="M695.2 268.9h1v1.9h-1zM841.8 658.8h1.5v2.3h-1.5z"/>
<path fill="#617500" d="M411.0 557.2h1v1.9h-1zM632.2 645.0h1.5v1.6h-1.5z"/>
<path fill="#457f00" d="M638.2 473.5h1v1.9h-1zM522.0 298.4h1v1.9h-1zM691.0 657.0h2.25v1.8h-2.25zM774.2 657.0h2.25v1.8h-2.25z"/>
<path fill="#537a00" d="M371.2 175.9h1v1.9h-1zM326.2 284.4h1v1.9h-1zM620.2 619.5h2v1.6h-2z"/>
<path fill="#3b8200" d="M144.0 155.8h1v1.9h-1zM624.2 657.0h1.5v1.8h-1.5z"/>
<path fill="#418000" d="M453.0 110.8h1v1.9h-1zM787.5 344.9h1v1.9h-1zM740.2 652.5h1v1.6h-1z"/>
<path fill="#079400" d="M594.8 659.5h1v1.9h-1zM600.2 657.0h1.5v1.8h-1.5z"/>
<path fill="#6f7000" d="M293.2 191.4h1v1.9h-1zM809.2 651.0h1v1.6h-1zM609.2 657.0h2.25v1.8h-2.25zM850.8 657.0h3v1.8h-3zM898.8 657.0h1.5v1.8h-1.5z"/>
<path fill="#935100" d="M320.2 59.6h1v1.9h-1zM844.5 619.2h1v1.9h-1z"/>
<path fill="#ca0300" d="M747.8 634.7h1v1.9h-1zM799.8 658.8h3v2.3h-3z"/>
<path fill="#954f00" d="M214.5 251.8h1v1.9h-1z"/>
<path fill="#836900" d="M823.5 543.2h1v1.9h-1z"/>
<path fill="#677300" d="M384.0 586.6h1v1.9h-1zM830.5 657.0h1.5v1.8h-1.5z"/>
<path fill="#218b00" d="M564.0 639.4h1v1.9h-1z"/>
<path fill="#8e5800" d="M150.8 241.0h1v1.9h-1zM891.2 658.8h1.5v2.3h-1.5z"/>
<path fill="#aa3100" d="M309.0 414.6h1v1.9h-1zM738.2 658.8h1.5v2.3h-1.5z"/>
<path fill="#009604" d="M171.8 312.3h1v1.9h-1zM649.8 657.0h2.25v1.8h-2.25z"/>
<path fill="#6c7100" d="M759.0 420.8h1v1.9h-1zM770.5 657.0h1.5v1.8h-1.5zM900.2 657.0h3v1.8h-3z"/>
<path fill="#d01300" d="M492.8 468.9h1v1.9h-1zM746.5 658.8h1.5v2.3h-1.5z"/>
<path fill="#487e00" d="M816.8 67.4h1v1.9h-1zM612.8 667.0h2v1.6h-2z"/>
<path fill="#a03e00" d="M504.0 148.0h1v1.9h-1zM695.5 658.8h2.25v2.3h-2.25z"/>
<path fill="#984b00" d="M368.2 120.1h1v1.9h-1zM870.0 608.0h1.5v1.6h-1.5z"/>
<path fill="#b42200" d="M370.5 121.7h1v1.9h-1zM833.2 665.5h2v1.6h-2zM896.5 658.8h1.5v2.3h-1.5z"/>
<path fill="#9a4700" d="M465.0 185.2h1v1.9h-1zM255.0 450.2h2v1.6h-2z"/>
<path fill="#00960a" d="M299.2 577.4h1v1.9h-1zM267.8 431.0h1v1.6h-1zM702.8 645.0h3v1.6h-3zM846.8 628.5h1v1.9h-1zM811.0 657.0h2.25v1.8h-2.25z"/>
<path fill="#a43a00" d="M407.2 349.5h1v1.9h-1zM907.5 652.5h3v1.6h-3z"/>
<path fill="#d11b00" d="M200.2 451.8h1v1.6h-1zM670.8 658.8h1.5v2.3h-1.5z"/>
<path fill="#238a00" d="M270.8 447.2h1v1.6h-1zM603.2 657.0h1.5v1.8h-1.5zM665.5 657.0h2.25v1.8h-2.25z"/>
<path fill="#a83300" d="M363.8 440.9h2v1.6h-2zM647.5 658.8h2.25v2.3h-2.25zM757.8 658.8h1.5v2.3h-1.5z"/>
<path fill="#d73400" d="M151.5 431.7h2v1.6h-2z"/>
<path fill="#577800" d="M303.8 440.9h1v1.6h-1z"/>
<path fill="#5c7700" d="M166.5 437.9h1v1.6h-1zM820.5 618.0h2v1.6h-2zM758.5 657.0h1.5v1.8h-1.5zM908.5 658.8h2.25v2.3h-2.25z"/>
<path fill="#009634" d="M177.8 428.6h1v1.6h-1zM264.0 431.0h1v1.6h-1z"/>
<path fill="#d42900" d="M330.8 430.1h2v1.6h-2z"/>
<path fill="#c20e00" d="M186.8 434.8h3v1.6h-3zM264.0 429.5h2v1.6h-2zM596.5 658.8h1.5v2.3h-1.5z"/>
<path fill="#994a00" d="M219.8 431.7h3v1.6h-3zM294.8 434.8h3v1.6h-3z"/>
<path fill="#cf0f00" d="M257.2 431.0h3v1.6h-3zM157.5 448.5h1v1.6h-1zM838.8 658.8h1.5v2.3h-1.5z"/>
<path fill="#318500" d="M303.0 431.0h1v1.6h-1zM631.8 657.0h3v1.8h-3zM853.8 657.0h1.5v1.8h-1.5z"/>
<path fill="#bd1500" d="M312.8 431.0h2v1.6h-2z"/>
<path fill="#009610" d="M284.2 431.0h1v1.6h-1zM683.5 657.0h1.5v1.8h-1.5zM816.2 657.0h2.25v1.8h-2.25z"/>
<path fill="#786e00" d="M298.5 431.0h1v1.6h-1zM669.0 652.5h2v1.6h-2zM744.8 584.5h2v1.6h-2z"/>
<path fill="#009617" d="M237.8 431.0h2v1.6h-2z"/>
<path fill="#d01200" d="M247.5 431.0h1v1.6h-1zM605.5 658.8h2.25v2.3h-2.25zM739.8 658.8h3v2.3h-3zM752.5 658.8h1.5v2.3h-1.5zM824.5 658.8h2.25v2.3h-2.25z"/>
<path fill="#d21f00" d="M243.8 431.0h2v1.6h-2zM895.0 658.8h1.5v2.3h-1.5z"/>
<path fill="#b52000" d="M237.0 431.0h1.5v1.6h-1.5z"/>
<path fill="#547900" d="M244.5 431.0h1v1.6h-1z"/>
<path fill="#ae2c00" d="M134.2 445.5h2v1.6h-2z"/>
<path fill="#009609" d="M138.0 447.0h3v1.6h-3zM657.0 665.5h2v1.6h-2zM911.5 657.0h1.5v1.8h-1.5z"/>
<path fill="#00961a" d="M132.0 445.5h2v1.6h-2zM744.2 657.0h2.25v1.8h-2.25z"/>
<path fill="#1d8c00" d="M240.0 447.0h1.5v1.6h-1.5zM908.2 649.5h1v1.6h-1z"/>
<path fill="#8d5b00" d="M255.0 447.0h1.5v1.6h-1.5z"/>
<path fill="#905500" d="M769.5 619.5h1v1.6h-1z"/>
<path fill="#a23d00" d="M808.5 621.0h1.5v1.6h-1.5zM791.2 668.5h2v1.6h-2z"/>
<path fill="#a63600" d="M687.0 618.0h1.5v1.6h-1.5zM896.2 652.5h2v1.6h-2z"/>
<path fill="#c40b00" d="M715.5 621.0h1.5v1.6h-1.5zM595.0 658.8h1.5v2.3h-1.5zM715.0 658.8h2.25v2.3h-2.25z"/>
<path fill="#c20f00" d="M659.2 618.0h2v1.6h-2z"/>
<path fill="#338500" d="M668.2 619.5h2v1.6h-2zM586.8 657.0h1.5v1.8h-1.5z"/>
<path fill="#4b7c00" d="M627.8 619.5h2v1.6h-2z"/>
<path fill="#3a8200" d="M835.5 618.0h1v1.6h-1zM798.8 584.5h2v1.6h-2z"/>
<path fill="#756f00" d="M707.2 621.0h2v1.6h-2z"/>
<path fill="#b32400" d="M610.5 649.5h1v1.6h-1z"/>
<path fill="#6d7100" d="M813.8 651.0h2v1.6h-2zM906.2 657.0h3v1.8h-3z"/>
<path fill="#119000" d="M851.2 651.0h1v1.6h-1z"/>
<path fill="#0e9100" d="M755.2 652.5h2v1.6h-2zM703.8 657.0h2.25v1.8h-2.25zM716.5 657.0h1.5v1.8h-1.5z"/>
<path fill="#607600" d="M860.2 651.0h1v1.6h-1z"/>
<path fill="#b12700" d="M735.0 651.0h1v1.6h-1z"/>
<path fill="#a63700" d="M899.2 651.0h1v1.6h-1z"/>
<path fill="#4d7c00" d="M860.2 649.5h3v1.6h-3zM893.2 667.0h1v1.6h-1z"/>
<path fill="#8e5900" d="M894.8 651.0h1.5v1.6h-1.5zM791.5 657.0h1.5v1.8h-1.5zM691.0 658.8h1.5v2.3h-1.5z"/>
<path fill="#a13d00" d="M714.0 651.0h1v1.6h-1z"/>
<path fill="#388300" d="M871.5 651.0h2v1.6h-2zM749.2 668.5h3v1.6h-3zM597.2 657.0h3v1.8h-3z"/>
<path fill="#129000" d="M603.8 651.0h1v1.6h-1zM887.2 665.5h3v1.6h-3zM814.8 657.0h1.5v1.8h-1.5zM843.2 657.0h3v1.8h-3z"/>
<path fill="#846800" d="M645.0 668.5h1v1.6h-1zM645.2 657.0h2.25v1.8h-2.25zM756.2 657.0h2.25v1.8h-2.25zM886.8 658.8h3v2.3h-3z"/>
<path fill="#2a8800" d="M858.0 668.5h2v1.6h-2zM595.0 657.0h2.25v1.8h-2.25zM766.0 657.0h1.5v1.8h-1.5z"/>
<path fill="#bf1200" d="M910.5 668.5h1v1.6h-1z"/>
<path fill="#b52100" d="M652.5 667.0h1v1.6h-1z"/>
<path fill="#647400" d="M660.0 665.5h3v1.6h-3z"/>
<path fill="#a33a00" d="M612.8 667.0h1v1.6h-1zM694.0 658.8h1.5v2.3h-1.5z"/>
<path fill="#cb0100" d="M812.2 667.0h3v1.6h-3zM590.5 658.8h3v2.3h-3zM732.2 658.8h1.5v2.3h-1.5z"/>
<path fill="#009601" d="M610.5 667.0h2v1.6h-2zM867.0 646.5h2v1.6h-2zM669.2 657.0h3v1.8h-3zM863.5 657.0h1.5v1.8h-1.5z"/>
<path fill="#8b5c00" d="M897.8 667.0h3v1.6h-3z"/>
<path fill="#667400" d="M660.8 667.0h2v1.6h-2zM672.0 616.1h1v1.9h-1z"/>
<path fill="#2b8700" d="M733.5 667.0h2v1.6h-2z"/>
<path fill="#b71e00" d="M873.0 667.0h2v1.6h-2zM604.0 658.8h1.5v2.3h-1.5zM622.0 658.8h2.25v2.3h-2.25zM692.5 658.8h1.5v2.3h-1.5z"/>
<path fill="#467e00" d="M645.8 667.0h1.5v1.6h-1.5zM823.5 606.5h1.5v1.6h-1.5z"/>
<path fill="#577900" d="M807.8 609.5h1v1.6h-1zM751.0 658.8h1.5v2.3h-1.5z"/>
<path fill="#00960d" d="M807.0 608.0h2v1.6h-2zM676.8 657.0h2.25v1.8h-2.25zM780.2 657.0h3v1.8h-3zM877.0 657.0h1.5v1.8h-1.5z"/>
<path fill="#727000" d="M810.0 609.5h1v1.6h-1zM653.5 657.0h2.25v1.8h-2.25z"/>
<path fill="#3d8200" d="M786.8 586.0h1v1.6h-1z"/>
<path fill="#6c7200" d="M796.5 584.5h1v1.6h-1zM628.8 657.0h3v1.8h-3z"/>
<path fill="#009622" d="M593.2 646.5h3v1.6h-3zM909.2 657.0h2.25v1.8h-2.25z"/>
<path fill="#368400" d="M753.8 643.5h1v1.6h-1zM726.0 617.6h1v1.9h-1z"/>
<path fill="#d52a00" d="M665.2 665.7h1v1.9h-1z"/>
<path fill="#3f8100" d="M761.2 606.8h1v1.9h-1zM803.2 627.0h1v1.9h-1zM696.2 657.0h3v1.8h-3z"/>
<path fill="#974b00" d="M801.0 606.8h1v1.9h-1zM630.2 658.8h3v2.3h-3z"/>
<path fill="#5a7800" d="M791.2 640.9h1v1.9h-1z"/>
<path fill="#5b7700" d="M827.2 650.2h1v1.9h-1zM661.0 657.0h3v1.8h-3z"/>
<path fill="#009623" d="M628.5 614.6h1v1.9h-1zM606.2 657.0h3v1.8h-3z"/>
<path fill="#d01600" d="M710.2 616.1h1v1.9h-1zM686.2 627.0h1v1.9h-1zM769.0 658.8h1.5v2.3h-1.5zM814.8 658.8h1.5v2.3h-1.5z"/>
<path fill="#288900" d="M833.2 654.9h1v1.9h-1z"/>
<path fill="#cf1000" d="M797.2 625.4h1v1.9h-1zM718.8 658.8h1.5v2.3h-1.5zM811.8 658.8h1.5v2.3h-1.5z"/>
<path fill="#009602" d="M597.0 617.6h1v1.9h-1zM588.2 657.0h2.25v1.8h-2.25zM739.8 657.0h3v1.8h-3zM867.2 657.0h1.5v1.8h-1.5z"/>
<path fill="#886200" d="M624.0 628.5h1v1.9h-1zM724.5 620.8h1v1.9h-1zM787.8 657.0h2.25v1.8h-2.25z"/>
<path fill="#f4e000" d="M152 524h1.2v1.8h-1.2zM171 614h1.2v1.8h-1.2zM337 535h1.2v1.8h-1.2zM352 590h1.2v1.8h-1.2zM352 628h1.2v1.8h-1.2zM345 627h1.2v1.8h-1.2zM448 471h1.2v1.8h-1.2zM601 551h1.2v1.8h-1.2zM611 553h1.2v1.8h-1.2zM129 631h1.2v1.8h-1.2zM141 633h1.2v1.8h-1.2zM586 650h1.2v1.8h-1.2z"/>
<path fill="#00003a" d="M170 567h1.2v1.8h-1.2zM170 581h1.2v1.8h-1.2zM170 623h1.2v1.8h-1.2zM222 587h1.2v1.8h-1.2zM222 605h1.2v1.8h-1.2zM258 566h1.2v1.8h-1.2zM258 587h1.2v1.8h-1.2zM186 514h1.2v1.8h-1.2zM407 497h1.2v1.8h-1.2zM426 477h1.2v1.8h-1.2zM484 636h1.2v1.8h-1.2zM583 657h1.2v1.8h-1.2z"/>
<path fill="#c90500" d="M583 658.8H913.5V661.1H583zM700.0 658.8h3v2.3h-3zM805.8 658.8h3v2.3h-3zM859.8 658.8h2.25v2.3h-2.25z"/>
<path fill="#168e00" d="M583.0 657.0h1.5v1.8h-1.5z"/>
<path fill="#009618" d="M592.0 657.0h1.5v1.8h-1.5z"/>
<path fill="#139000" d="M593.5 657.0h1.5v1.8h-1.5z"/>
<path fill="#00961c" d="M601.8 657.0h1.5v1.8h-1.5z"/>
<path fill="#109100" d="M604.8 657.0h1.5v1.8h-1.5zM903.2 657.0h1.5v1.8h-1.5z"/>
<path fill="#00961e" d="M620.5 657.0h2.25v1.8h-2.25z"/>
<path fill="#009615" d="M639.2 657.0h2.25v1.8h-2.25zM818.5 657.0h1.5v1.8h-1.5z"/>
<path fill="#168f00" d="M655.8 657.0h1.5v1.8h-1.5z"/>
<path fill="#00960f" d="M658.8 657.0h2.25v1.8h-2.25z"/>
<path fill="#0d9200" d="M679.0 657.0h3v1.8h-3zM813.2 657.0h1.5v1.8h-1.5z"/>
<path fill="#228a00" d="M688.0 657.0h1.5v1.8h-1.5z"/>
<path fill="#2e8600" d="M693.2 657.0h1.5v1.8h-1.5zM894.2 657.0h2.25v1.8h-2.25z"/>
<path fill="#5d7700" d="M694.8 657.0h1.5v1.8h-1.5z"/>
<path fill="#009607" d="M699.2 657.0h1.5v1.8h-1.5zM736.8 657.0h1.5v1.8h-1.5zM738.2 657.0h1.5v1.8h-1.5zM746.5 657.0h2.25v1.8h-2.25zM778.0 657.0h2.25v1.8h-2.25zM891.2 657.0h3v1.8h-3z"/>
<path fill="#009626" d="M709.0 657.0h1.5v1.8h-1.5zM710.5 657.0h3v1.8h-3z"/>
<path fill="#009639" d="M718.0 657.0h1.5v1.8h-1.5z"/>
<path fill="#00961d" d="M725.5 657.0h1.5v1.8h-1.5z"/>
<path fill="#318600" d="M727.0 657.0h1.5v1.8h-1.5zM776.5 657.0h1.5v1.8h-1.5z"/>
<path fill="#188e00" d="M730.0 657.0h3v1.8h-3z"/>
<path fill="#497d00" d="M734.5 657.0h2.25v1.8h-2.25z"/>
<path fill="#009619" d="M748.8 657.0h2.25v1.8h-2.25z"/>
<path fill="#089300" d="M753.2 657.0h1.5v1.8h-1.5z"/>
<path fill="#029500" d="M754.8 657.0h1.5v1.8h-1.5zM805.8 657.0h1.5v1.8h-1.5z"/>
<path fill="#7f6b00" d="M763.0 657.0h1.5v1.8h-1.5z"/>
<path fill="#009605" d="M783.2 657.0h2.25v1.8h-2.25zM838.8 657.0h1.5v1.8h-1.5zM904.8 657.0h1.5v1.8h-1.5z"/>
<path fill="#009616" d="M785.5 657.0h2.25v1.8h-2.25z"/>
<path fill="#009620" d="M795.2 657.0h1.5v1.8h-1.5zM841.8 657.0h1.5v1.8h-1.5z"/>
<path fill="#009629" d="M820.0 657.0h1.5v1.8h-1.5z"/>
<path fill="#2f8600" d="M821.5 657.0h2.25v1.8h-2.25z"/>
<path fill="#298800" d="M823.8 657.0h2.25v1.8h-2.25zM858.2 657.0h1.5v1.8h-1.5z"/>
<path fill="#00961f" d="M837.2 657.0h1.5v1.8h-1.5zM880.0 657.0h3v1.8h-3z"/>
<path fill="#437f00" d="M846.2 657.0h1.5v1.8h-1.5z"/>
<path fill="#796d00" d="M855.2 657.0h3v1.8h-3z"/>
<path fill="#1f8b00" d="M870.2 657.0h1.5v1.8h-1.5z"/>
<path fill="#915400" d="M878.5 657.0h1.5v1.8h-1.5z"/>
<path fill="#cf1100" d="M586.0 658.8h1.5v2.3h-1.5zM881.5 658.8h2.25v2.3h-2.25z"/>
<path fill="#d21c00" d="M589.0 658.8h1.5v2.3h-1.5zM764.5 658.8h1.5v2.3h-1.5zM822.2 658.8h2.25v2.3h-2.25z"/>
<path fill="#ce0c00" d="M593.5 658.8h1.5v2.3h-1.5zM599.5 658.8h1.5v2.3h-1.5zM717.2 658.8h1.5v2.3h-1.5zM784.0 658.8h2.25v2.3h-2.25zM853.8 658.8h3v2.3h-3zM862.0 658.8h2.25v2.3h-2.25z"/>
<path fill="#c50900" d="M598.0 658.8h1.5v2.3h-1.5zM616.0 658.8h1.5v2.3h-1.5zM904.0 658.8h1.5v2.3h-1.5z"/>
<path fill="#cd0700" d="M607.8 658.8h3v2.3h-3zM677.5 658.8h1.5v2.3h-1.5zM709.8 658.8h2.25v2.3h-2.25zM858.2 658.8h1.5v2.3h-1.5z"/>
<path fill="#945100" d="M610.8 658.8h2.25v2.3h-2.25z"/>
<path fill="#d42700" d="M627.2 658.8h3v2.3h-3zM867.2 658.8h1.5v2.3h-1.5z"/>
<path fill="#c40c00" d="M640.0 658.8h1.5v2.3h-1.5zM703.0 658.8h2.25v2.3h-2.25zM865.8 658.8h1.5v2.3h-1.5z"/>
<path fill="#af2a00" d="M649.8 658.8h2.25v2.3h-2.25z"/>
<path fill="#b02800" d="M669.2 658.8h1.5v2.3h-1.5z"/>
<path fill="#c70800" d="M680.5 658.8h1.5v2.3h-1.5zM877.8 658.8h1.5v2.3h-1.5z"/>
<path fill="#c90400" d="M682.0 658.8h3v2.3h-3zM826.8 658.8h2.25v2.3h-2.25zM889.8 658.8h1.5v2.3h-1.5z"/>
<path fill="#c60900" d="M697.8 658.8h2.25v2.3h-2.25z"/>
<path fill="#be1500" d="M712.0 658.8h3v2.3h-3z"/>
<path fill="#d11a00" d="M726.2 658.8h2.25v2.3h-2.25z"/>
<path fill="#d11900" d="M730.8 658.8h1.5v2.3h-1.5z"/>
<path fill="#c50a00" d="M748.0 658.8h1.5v2.3h-1.5z"/>
<path fill="#d11800" d="M754.0 658.8h2.25v2.3h-2.25zM813.2 658.8h1.5v2.3h-1.5z"/>
<path fill="#bf1300" d="M759.2 658.8h3v2.3h-3zM864.2 658.8h1.5v2.3h-1.5z"/>
<path fill="#c30d00" d="M774.2 658.8h2.25v2.3h-2.25z"/>
<path fill="#d22000" d="M776.5 658.8h3v2.3h-3z"/>
<path fill="#c01200" d="M786.2 658.8h3v2.3h-3z"/>
<path fill="#be1300" d="M789.2 658.8h2.25v2.3h-2.25z"/>
<path fill="#d21d00" d="M793.8 658.8h1.5v2.3h-1.5z"/>
<path fill="#c30c00" d="M795.2 658.8h1.5v2.3h-1.5z"/>
<path fill="#d32200" d="M796.8 658.8h3v2.3h-3z"/>
<path fill="#d42800" d="M802.8 658.8h1.5v2.3h-1.5z"/>
<path fill="#b42300" d="M808.8 658.8h3v2.3h-3z"/>
<path fill="#ca0400" d="M816.2 658.8h1.5v2.3h-1.5z"/>
<path fill="#d32100" d="M817.8 658.8h1.5v2.3h-1.5z"/>
<path fill="#a73400" d="M840.2 658.8h1.5v2.3h-1.5z"/>
<path fill="#b81c00" d="M846.2 658.8h3v2.3h-3z"/>
<path fill="#d01400" d="M870.2 658.8h3v2.3h-3zM905.5 658.8h3v2.3h-3z"/>
<path fill="#d21e00" d="M883.8 658.8h3v2.3h-3zM900.2 658.8h1.5v2.3h-1.5z"/>
<path fill="#d01500" d="M898.0 658.8h2.25v2.3h-2.25zM901.8 658.8h2.25v2.3h-2.25z"/>
</g>
<g stroke="#000" fill="none">
<path d="M104.6 52.1V680.9" stroke-width="1.25"/><path d="M913.4 52.1V680.9" stroke-width="1.25"/>
<path d="M104 52.85H914" stroke-width="1.5"/><path d="M104 680.1H914" stroke-width="1.6"/>
</g><g stroke="#000" stroke-width="1.2" fill="none">
<path d="M105.0 680.00h6.5M913.5 680.00h-6.5M105.0 653.88h3.5M913.5 653.88h-3.5M105.0 627.75h3.5M913.5 627.75h-3.5M105.0 601.62h3.5M913.5 601.62h-3.5M105.0 575.50h6.5M913.5 575.50h-6.5M105.0 549.38h3.5M913.5 549.38h-3.5M105.0 523.25h3.5M913.5 523.25h-3.5M105.0 497.12h3.5M913.5 497.12h-3.5M105.0 471.00h6.5M913.5 471.00h-6.5M105.0 444.88h3.5M913.5 444.88h-3.5M105.0 418.75h3.5M913.5 418.75h-3.5M105.0 392.62h3.5M913.5 392.62h-3.5M105.0 366.50h6.5M913.5 366.50h-6.5M105.0 340.38h3.5M913.5 340.38h-3.5M105.0 314.25h3.5M913.5 314.25h-3.5M105.0 288.12h3.5M913.5 288.12h-3.5M105.0 262.00h6.5M913.5 262.00h-6.5M105.0 235.88h3.5M913.5 235.88h-3.5M105.0 209.75h3.5M913.5 209.75h-3.5M105.0 183.62h3.5M913.5 183.62h-3.5M105.0 157.50h6.5M913.5 157.50h-6.5M105.0 131.38h3.5M913.5 131.38h-3.5M105.0 105.25h3.5M913.5 105.25h-3.5M105.0 79.12h3.5M913.5 79.12h-3.5M105.0 53.00h6.5M913.5 53.00h-6.5M146.17 680.0v-2.2M146.17 53.0v2.2M191.03 680.0v-2.2M191.03 53.0v2.2M235.90 680.0v-2.2M235.90 53.0v2.2M280.77 680.0v-2.2M280.77 53.0v2.2M325.63 680.0v-2.2M325.63 53.0v2.2M370.50 680.0v-4.8M370.50 53.0v4.8M415.37 680.0v-2.2M415.37 53.0v2.2M460.23 680.0v-2.2M460.23 53.0v2.2M505.10 680.0v-2.2M505.10 53.0v2.2M549.97 680.0v-2.2M549.97 53.0v2.2M594.83 680.0v-2.2M594.83 53.0v2.2M639.70 680.0v-4.8M639.70 53.0v4.8M684.57 680.0v-2.2M684.57 53.0v2.2M729.43 680.0v-2.2M729.43 53.0v2.2M774.30 680.0v-2.2M774.30 53.0v2.2M819.17 680.0v-2.2M819.17 53.0v2.2M864.03 680.0v-2.2M864.03 53.0v2.2M908.90 680.0v-4.8M908.90 53.0v4.8"/>
</g>
<rect x="923.5" y="128.2" width="25.1" height="477.0" fill="url(#cb)" stroke="#1a1a1a" stroke-width="0.85"/>
<path d="M948.9 581.38h-1.6M948.9 557.50h-1.6M948.9 533.62h-1.6M948.9 509.75h-1.6M948.9 485.88h-1.6M948.9 462.00h-1.6M948.9 438.12h-1.6M948.9 414.25h-1.6M948.9 390.38h-1.6M948.9 366.50h-1.6M948.9 342.62h-1.6M948.9 318.75h-1.6M948.9 294.88h-1.6M948.9 271.00h-1.6M948.9 247.12h-1.6M948.9 223.25h-1.6M948.9 199.38h-1.6M948.9 175.50h-1.6M948.9 151.62h-1.6" stroke="#000" stroke-width="1" fill="none"/>
<text x="522.5" y="39.8" text-anchor="middle" textLength="535.4" xml:space="preserve">Skewness   16:01 25.02.2020 - 19:00 25.02.2020 Muenchen</text>
<text x="99.5" y="65.3" text-anchor="end">12</text>
<text x="99.5" y="163.8" text-anchor="end">10</text>
<text x="99.5" y="268.3" text-anchor="end">8</text>
<text x="99.5" y="372.8" text-anchor="end">6</text>
<text x="99.5" y="477.3" text-anchor="end">4</text>
<text x="99.5" y="581.8" text-anchor="end">2</text>
<text x="99.5" y="680.3" text-anchor="end">0</text>
<text x="370.5" y="704.6" text-anchor="middle">17:00</text>
<text x="639.7" y="704.6" text-anchor="middle">18:00</text>
<text x="908.9" y="704.6" text-anchor="middle">19:00</text>
<text x="509.7" y="727" text-anchor="middle">Time UTC</text>
<text transform="translate(62.2 364) rotate(-90)" text-anchor="middle">Height km</text>
<text x="953.3" y="182.0">4</text>
<text x="953.3" y="277.5">2</text>
<text x="953.3" y="373.0">0</text>
<text x="953.3" y="468.5">-2</text>
<text x="953.3" y="564.0">-4</text>
<text transform="translate(989 372.3) rotate(-90)" text-anchor="middle">SKWg</text>
</svg></body></html>
